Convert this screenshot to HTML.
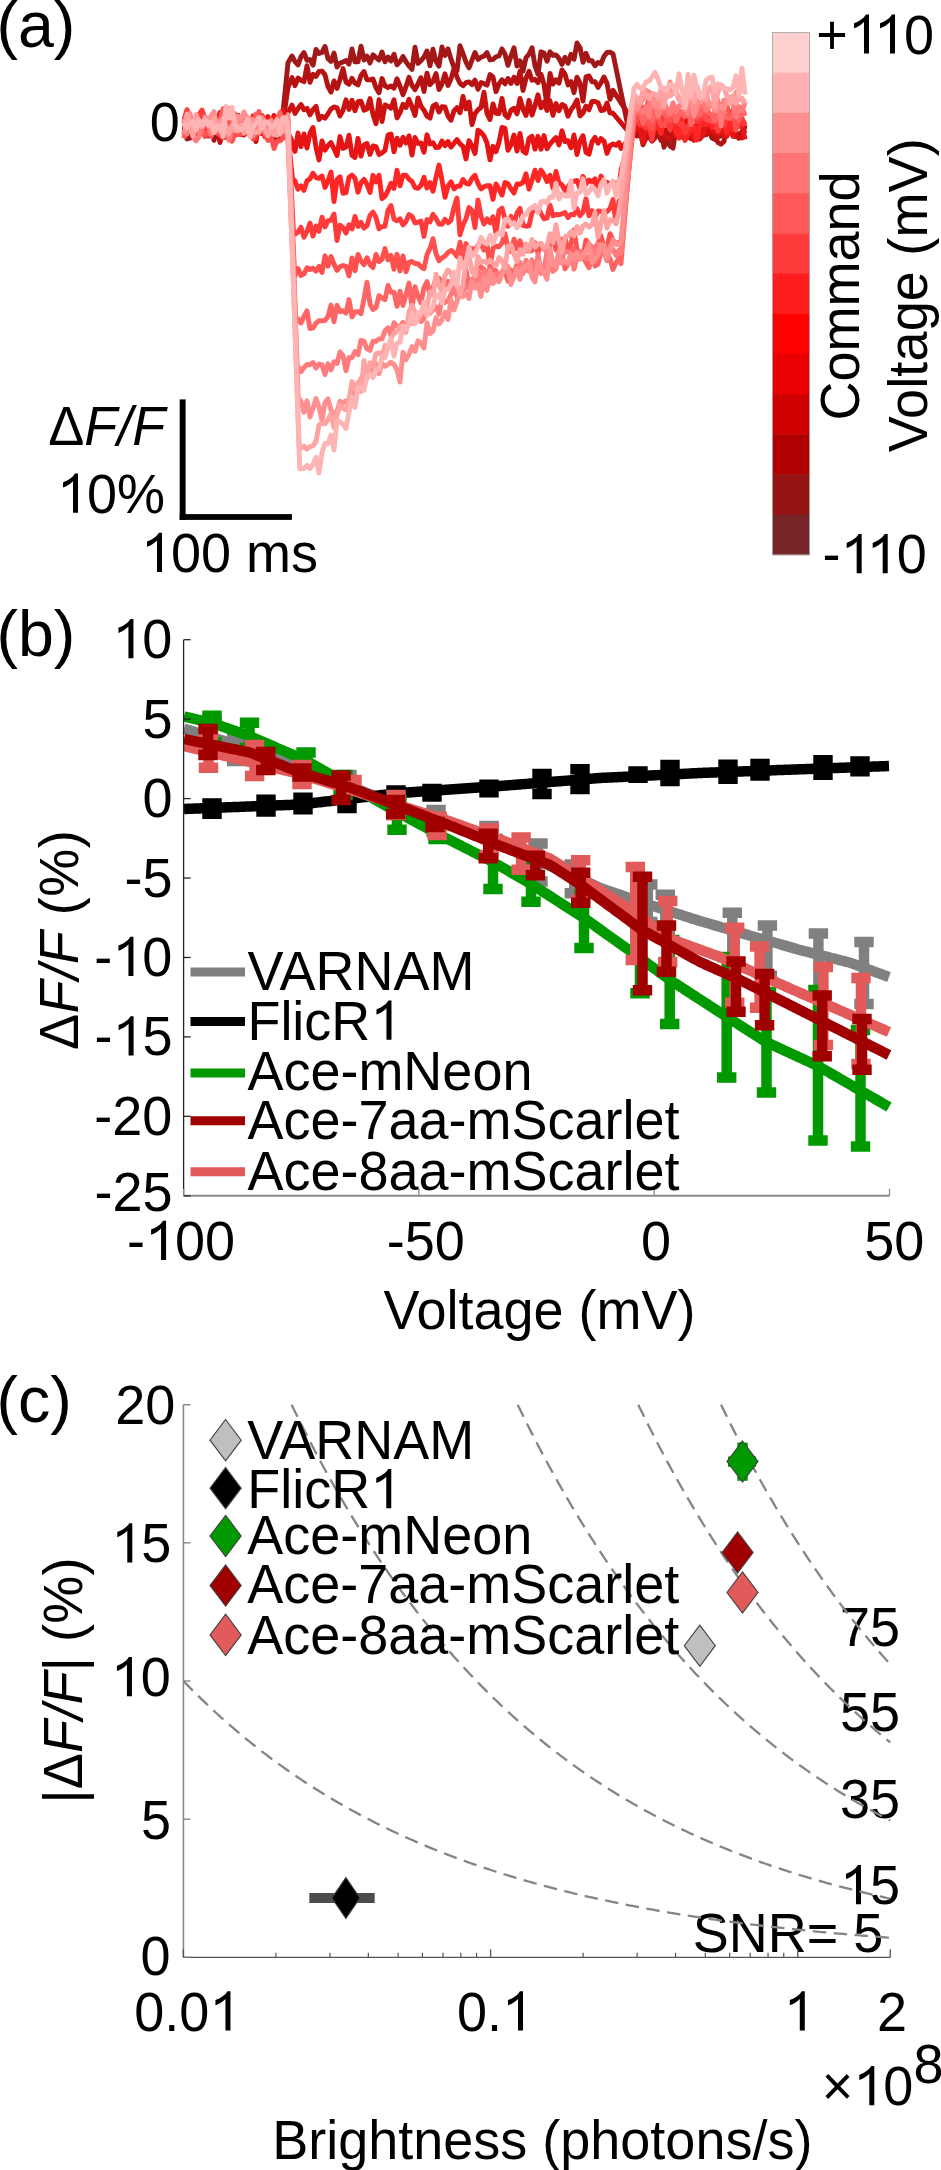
<!DOCTYPE html>
<html><head><meta charset="utf-8"><style>
html,body{margin:0;padding:0;background:#fff;}
svg{display:block;}
text{font-family:"Liberation Sans",sans-serif;fill:#000;}
</style></head><body>
<svg width="941" height="2170" viewBox="0 0 941 2170">
<rect width="941" height="2170" fill="#fff"/>
<polyline points="184,130.23 187,138.97 190,138.08 193,126.63 196,128.03 199,126.52 202,133.76 205,129.63 208,134.93 211,117.81 214,140.34 217,129.36 220,134.49 223,129.1 226,127.5 229,133.06 232,135.44 235,128.66 238,128.99 241,134.53 244,124.26 247,120.01 250,132.61 253,125.57 256,117.33 259,124.63 262,126.91 265,122.12 268,120.15 271,130.24 274,135.92 277,128.46 280,125.09 281,132.54 288,62.74 292,56.01 295,61.58 298,64.86 301,56.6 304,52.59 307,60.24 310,59.57 313,65.18 316,49.44 319,53.55 322,52.37 325,46.45 328,58.72 331,61.36 334,52.99 337,67 340,63.27 343,61.98 346,60.48 349,64.13 352,49.02 355,61.85 358,61.77 361,46.12 364,60.07 367,56.11 370,62.92 373,54.85 376,57.62 379,59.99 382,51.94 385,61.66 388,57.01 391,60.94 394,54.24 397,64.84 400,61.66 403,56.48 406,61.82 409,65.95 412,69.45 415,47.24 418,63.44 421,60.67 424,56.97 427,50.94 430,65.87 433,49.24 436,61.3 439,66.14 442,46.98 445,55.53 448,48.88 451,59.12 454,67.5 457,70.85 460,45.75 463,53.68 466,62.11 469,67.88 472,60.23 475,52.51 478,59.39 481,57.31 484,56.07 487,52.56 490,59.95 493,59.42 496,56.76 499,55.9 502,48.88 505,54.14 508,65.3 511,56.07 514,47.82 517,66.12 520,60.8 523,71.21 526,57.7 529,54.23 532,47.71 535,65.99 538,74.21 541,51.82 544,52.96 547,61.16 550,51.73 553,55.42 556,54.89 559,58.45 562,64.4 565,57.31 568,63.22 571,54.38 574,59.3 577,43.02 580,47.55 583,62.37 586,53.21 589,60.92 592,60.66 595,65.8 598,62.42 601,63.77 604,56.31 607,52.43 610,52.2 613,53.8 628,126.54 631,130.39 634,133.39 637,135.66 640,131.76 643,121.3 646,133.52 649,135.49 652,141.16 655,137.81 658,129.75 661,129.22 664,147.27 667,138.99 670,146.09 673,148.05 676,128.6 679,136.54 682,137.02 685,137.69 688,137.58 691,135.33 694,135.15 697,124.08 700,132.91 703,129.07 706,134.83 709,130.91 712,138.08 715,139.41 718,136.04 721,136.09 724,134.61 727,131.04 730,132.91 733,130.73 736,136.56 739,134.09 742,137.84 745,125.23" fill="none" stroke="#a21717" stroke-width="4.9" stroke-linejoin="round" stroke-linecap="butt"/>
<polyline points="184,130.86 187,119.97 190,120.15 193,123.7 196,121.28 199,126.92 202,121.21 205,117.94 208,119.42 211,133.66 214,125.29 217,117.29 220,125.06 223,114.73 226,136.81 229,114.94 232,128.16 235,128.59 238,115.43 241,126.98 244,131.58 247,128.09 250,126.72 253,131.26 256,126.06 259,127.22 262,124.16 265,129.17 268,118.79 271,130.23 274,121.67 277,117.8 280,127.41 281,136.17 288,87.34 292,77.6 295,85.62 298,78.03 301,80.21 304,81.63 307,65.76 310,82.33 313,74.27 316,76.48 319,71.36 322,71.09 325,74.88 328,86.56 331,92.12 334,80.97 337,88.35 340,79.41 343,68.54 346,82.16 349,84.12 352,78.36 355,83.19 358,84.98 361,75.52 364,71.48 367,79.77 370,79.85 373,78.92 376,87.78 379,92.66 382,78.53 385,85.9 388,87.51 391,86.01 394,88.23 397,78.76 400,86.22 403,94.7 406,86.66 409,77.27 412,85.38 415,89.71 418,83.82 421,77.68 424,91.59 427,73.17 430,84.75 433,81.33 436,73.56 439,89.5 442,83.76 445,73.77 448,85.45 451,78.64 454,68.94 457,76.96 460,83.25 463,85.72 466,82.63 469,81.84 472,84.65 475,80.17 478,89.34 481,82.56 484,83.53 487,85.17 490,74.63 493,76.93 496,91.71 499,83.85 502,79.78 505,83.91 508,78.48 511,83.51 514,77.28 517,83.51 520,71.28 523,90.49 526,78.33 529,71.29 532,80.26 535,79.29 538,82.76 541,74.2 544,84.39 547,105.69 550,73.35 553,84.03 556,79.76 559,83.09 562,69.87 565,74.24 568,84.88 571,81.6 574,92.65 577,77.22 580,83.03 583,101.11 586,76.84 589,75.94 592,81.68 595,81.63 598,87.5 601,82.8 604,76.96 607,83.36 610,99.38 613,90.37 628,113.64 631,131.06 634,126.22 637,136.11 640,130.86 643,144.76 646,138.15 649,137.88 652,133.23 655,131.73 658,134.25 661,140.55 664,135.53 667,129.68 670,140.42 673,133.27 676,131.49 679,126.78 682,128.26 685,127.8 688,113.57 691,138.71 694,135.74 697,130.59 700,138.9 703,134.89 706,134.45 709,115.67 712,130.46 715,135.51 718,142.62 721,144.15 724,141.41 727,124.33 730,117.5 733,135.77 736,132.18 739,138.35 742,131.17 745,133.45" fill="none" stroke="#b51313" stroke-width="4.9" stroke-linejoin="round" stroke-linecap="butt"/>
<polyline points="184,121.1 187,133.96 190,128.06 193,133.31 196,134.03 199,130.23 202,133.09 205,130.91 208,136.01 211,134.31 214,127.39 217,127.12 220,142.51 223,130.33 226,137.55 229,133.6 232,127.28 235,126.06 238,131.79 241,132.69 244,135.05 247,122.64 250,127.08 253,130.37 256,141.56 259,115.42 262,133.9 265,127.44 268,133.85 271,127.75 274,133.41 277,141.33 280,133.34 281,133.86 288,112.47 292,105.04 295,113.55 298,108.58 301,104.58 304,109.66 307,108.4 310,114.85 313,109.58 316,106.35 319,119.43 322,116.33 325,118.17 328,113.78 331,109.03 334,106.97 337,107.87 340,115.95 343,110.42 346,99.87 349,109.38 352,100.28 355,110.7 358,101.64 361,101.23 364,110.33 367,109.02 370,98.55 373,114.44 376,123.76 379,99.68 382,121.45 385,104.88 388,106.15 391,108.21 394,99.83 397,117.93 400,112.59 403,104.36 406,107.47 409,99.27 412,106.97 415,115.42 418,97.9 421,106.33 424,110.16 427,116.09 430,118.06 433,106.12 436,104.23 439,112.07 442,106.68 445,107.01 448,116.17 451,120.18 454,110.76 457,107.72 460,112.74 463,96.49 466,108.81 469,101.92 472,124.67 475,113.63 478,109.79 481,107.56 484,92.23 487,113.51 490,119.54 493,103.96 496,113.26 499,113.5 502,98.5 505,114.87 508,117.62 511,110.17 514,108.23 517,113.82 520,98.44 523,109.2 526,115.53 529,100.35 532,115.08 535,105.75 538,94.76 541,107.78 544,102.05 547,110.55 550,100.69 553,115.34 556,103.51 559,110.72 562,104.43 565,106.2 568,116.18 571,109.72 574,105.67 577,100 580,115.9 583,113.06 586,106.05 589,109.79 592,101.37 595,101.45 598,102.68 601,110.45 604,110.05 607,103.16 610,112.93 613,113.22 628,131.14 631,136.85 634,128.1 637,129.25 640,133.12 643,129.78 646,135.24 649,121.73 652,139.41 655,124.84 658,128.91 661,120.91 664,133.96 667,138.41 670,137.07 673,135.5 676,119.72 679,124.84 682,126.95 685,123.83 688,137.41 691,131.22 694,129.84 697,133.22 700,123.72 703,124 706,124.18 709,133.28 712,132.25 715,133.82 718,137.12 721,121.04 724,126.3 727,130.97 730,121.1 733,126.49 736,136.69 739,137.28 742,137.11 745,130.28" fill="none" stroke="#cc1111" stroke-width="4.9" stroke-linejoin="round" stroke-linecap="butt"/>
<polyline points="184,121.6 187,130.12 190,120.54 193,125.23 196,131.75 199,120.57 202,118.97 205,122.94 208,126.95 211,126.18 214,124.03 217,126.67 220,112.44 223,117.33 226,124.08 229,116.87 232,114.14 235,115.03 238,116.94 241,121.82 244,116.25 247,124.55 250,134.2 253,122.03 256,131.41 259,124.9 262,115.61 265,121.31 268,116.52 271,128.07 274,115.39 277,131.73 280,126.82 283,109.65 286,128.18 288,133.25 291.46,139.77 295,151.47 298,133.08 301,146.6 304,133.95 307,148.08 310,133.08 313,127.48 316,147.46 319,159.92 322,140.87 325,150.27 328,145.5 331,142.62 334,148.79 337,155.56 340,136.55 343,148.4 346,146.94 349,135.24 352,155.28 355,157.47 358,138.3 361,156.04 364,144.92 367,143.46 370,154.44 373,146 376,146.61 379,154.48 382,152.94 385,150.32 388,135.16 391,134.01 394,151.8 397,138.24 400,145.31 403,137.23 406,143.08 409,135.84 412,155.02 415,137.52 418,143.42 421,142.96 424,152.15 427,134.8 430,143.93 433,142.75 436,147.61 439,147.21 442,141.02 445,145.64 448,141.57 451,147.11 454,143.33 457,139.66 460,143.79 463,146.35 466,158.89 469,140.67 472,145.92 475,153.53 478,130.14 481,132.34 484,135.98 487,143.05 490,159.89 493,146.35 496,151.72 499,142.27 502,127.45 505,128.43 508,150.4 511,144.88 514,135.07 517,151 520,133.45 523,151.07 526,153.15 529,138.5 532,136.22 535,149.09 538,136.27 541,149.17 544,135.57 547,148.77 550,144.04 553,140.55 556,137.48 559,144.94 562,130.86 565,141.51 568,140.7 571,147.77 574,135 577,154.57 580,141.19 583,135.71 586,152.35 589,154.16 592,141.93 595,137.27 598,143.24 601,138.56 604,141.04 607,153.36 610,145.65 613,144 616,145.31 619,142.62 621,148.55 634,132.8 637,124.56 640,127.69 643,142.93 646,129.78 649,125.77 652,140.53 655,127.06 658,119.76 661,131.45 664,121.06 667,123.72 670,129.15 673,126.16 676,121.96 679,123.36 682,123.08 685,134.7 688,122.24 691,123.22 694,140.45 697,123.35 700,136.83 703,135.68 706,125.99 709,117.63 712,129.99 715,131.44 718,133.39 721,127.47 724,134.95 727,136.18 730,120.04 733,136.43 736,128.15 739,123.27 742,124.9 745,139.39" fill="none" stroke="#e61414" stroke-width="4.9" stroke-linejoin="round" stroke-linecap="butt"/>
<polyline points="184,134.49 187,116.19 190,128.55 193,127.08 196,126.84 199,124.61 202,118.39 205,133.69 208,121.8 211,125.56 214,124.02 217,123.2 220,132.91 223,130.53 226,123.55 229,121.76 232,124.9 235,134.38 238,128.83 241,129.54 244,125.83 247,126.3 250,129.43 253,115.83 256,138.64 259,122.8 262,124.25 265,136.83 268,129.47 271,128.28 274,124.15 277,117.7 280,129.22 283,135.89 286,122.06 288,136.99 292.52,178.52 295,181.06 298,189.19 301,185.8 304,190.31 307,180.8 310,178.83 313,173.26 316,177.58 319,178.37 322,176 325,187.4 328,180.93 331,172.13 334,201.59 337,179.64 340,176.8 343,193.22 346,192.67 349,177.33 352,175.14 355,178.22 358,192.22 361,182.65 364,179.32 367,184.41 370,192.49 373,175.32 376,181.9 379,175.25 382,198.66 385,196.27 388,190.5 391,183.28 394,188.46 397,170.18 400,185.82 403,175.13 406,175.15 409,179.19 412,181.47 415,187.52 418,188.3 421,185.35 424,177.33 427,187.97 430,182.66 433,191.19 436,177.29 439,165.05 442,180.09 445,197.38 448,186.22 451,181.79 454,188.85 457,186.28 460,185.95 463,179.47 466,183.3 469,184.07 472,178.45 475,175.25 478,183.5 481,188.92 484,186.74 487,185.68 490,185.69 493,199.36 496,183.97 499,189.08 502,195.06 505,182.44 508,183.78 511,188.87 514,193.07 517,183.94 520,184.21 523,182.36 526,173.75 529,189.03 532,179.93 535,170.2 538,180.54 541,170.04 544,174.75 547,181.47 550,175.22 553,188.32 556,171.5 559,182.89 562,184.78 565,190.69 568,187.08 571,182.48 574,181.42 577,180.45 580,188.3 583,176.4 586,184.12 589,180.01 592,182.16 595,178.79 598,194.56 601,176.08 604,182.03 607,182.13 610,184.27 613,183.17 616,182.95 619,186.58 621,170.13 634,124.14 637,115.94 640,125.61 643,116.27 646,117.74 649,123.68 652,133.3 655,127.89 658,126.04 661,133.35 664,117.85 667,110.28 670,121.29 673,122.25 676,132.24 679,138.21 682,115.31 685,140.44 688,134.42 691,129.63 694,126.52 697,140.1 700,124.62 703,120.96 706,125.01 709,115.05 712,127.21 715,123.37 718,126.27 721,126.47 724,117.1 727,132.78 730,117.4 733,129.96 736,113.58 739,126.55 742,118.68 745,124.38" fill="none" stroke="#ff2626" stroke-width="4.9" stroke-linejoin="round" stroke-linecap="butt"/>
<polyline points="184,119.8 187,109.69 190,116.74 193,124.55 196,128.22 199,114.4 202,110.08 205,118.34 208,122.71 211,119.92 214,118.76 217,129.72 220,130.48 223,129 226,117.91 229,124.61 232,122.82 235,114.68 238,129.93 241,124.68 244,120.9 247,133.46 250,129.14 253,129.75 256,132.02 259,128.84 262,115.75 265,121.53 268,130.72 271,119.02 274,124.34 277,126.72 280,133.61 283,132.67 286,130.02 288,122.86 293.62,234.92 298,232.12 301,227.39 304,237.24 307,231.37 310,222.95 313,236.12 316,225.9 319,231.33 322,217.18 325,226.94 328,220.65 331,220.3 334,213.94 337,240.52 340,225.21 343,227.6 346,233.17 349,224.88 352,228.91 355,216.38 358,226.47 361,222.27 364,228.14 367,225.86 370,215.35 373,212.1 376,217.46 379,228.85 382,226.62 385,226.31 388,210.15 391,205.56 394,219.02 397,220.77 400,218.82 403,224.97 406,221.33 409,214.47 412,216.32 415,222.9 418,222.27 421,221.13 424,236.42 427,219.55 430,221.91 433,214.38 436,218.42 439,224.08 442,224.2 445,219.25 448,222.73 451,220.32 454,207.37 457,198.01 460,234.71 463,224.78 466,218.75 469,207.5 472,210.39 475,227.59 478,200.08 481,216.18 484,223.89 487,218.94 490,222.81 493,216.8 496,233.31 499,210.56 502,208.2 505,218.84 508,226.3 511,216.34 514,223.47 517,212.88 520,208.4 523,225.31 526,226.26 529,225.87 532,212.7 535,207.8 538,207.55 541,213.63 544,218.8 547,218.16 550,205.17 553,215.77 556,214.44 559,214.76 562,213.85 565,212.52 568,217.61 571,214.37 574,214.87 577,208.66 580,215.68 583,212.11 586,198.79 589,215.79 592,210.7 595,218.4 598,211.06 601,211.35 604,213.22 607,211.59 610,208.56 613,199.52 616,223.37 619,200.63 621,208.69 634,124.31 637,122.51 640,123.74 643,125.08 646,128.34 649,121.96 652,139.18 655,113.31 658,121.5 661,117.62 664,116.4 667,121.9 670,129.62 673,115.31 676,115.31 679,124.78 682,123.59 685,132.92 688,126.78 691,121.52 694,117.83 697,121.42 700,118.84 703,110.99 706,120.05 709,118.84 712,118.47 715,117.17 718,131.15 721,124.6 724,126.18 727,115.99 730,113.25 733,118.13 736,121.61 739,117.72 742,118.76 745,126.35" fill="none" stroke="#ff3a3a" stroke-width="4.9" stroke-linejoin="round" stroke-linecap="butt"/>
<polyline points="184,133.97 187,125.51 190,129.18 193,127.66 196,133.19 199,124.3 202,130.82 205,136.57 208,132.19 211,125.97 214,127.93 217,132.82 220,135.19 223,137.52 226,131.04 229,123.31 232,141.4 235,133.97 238,134.68 241,134.02 244,125.15 247,129.89 250,133.7 253,138.82 256,132.4 259,111.41 262,130.41 265,134.33 268,140.54 271,136.69 274,148.44 277,141.4 280,140.89 283,138.22 286,122.88 288,137.59 294.75,276.33 298,268.47 301,275.42 304,273.92 307,267.7 310,269.57 313,268.26 316,271.14 319,266.43 322,272.45 325,255.82 328,266.24 331,256.61 334,264.17 337,270.4 340,266.77 343,265.53 346,266.35 349,275.89 352,257.88 355,270.68 358,254.48 361,261.03 364,264.85 367,257.8 370,264.43 373,267.54 376,254.51 379,261.54 382,259.23 385,248.57 388,259.81 391,255.45 394,269.23 397,254.29 400,270.96 403,255.9 406,271.89 409,262.35 412,261.47 415,263.48 418,263.81 421,266.81 424,268.68 427,254.65 430,248.39 433,238.71 436,253.49 439,260.77 442,257.96 445,255.94 448,252.58 451,250.38 454,252.45 457,256.62 460,242.13 463,258.31 466,243.6 469,251.92 472,248.51 475,249.99 478,245.26 481,244.29 484,250.12 487,244.22 490,267.36 493,248.12 496,246.28 499,246.74 502,243.04 505,233.66 508,247.93 511,251.43 514,239.22 517,248.94 520,240.68 523,248.2 526,250.57 529,251.17 532,250.61 535,242.86 538,253.09 541,244.1 544,249.15 547,251.27 550,244.4 553,237.71 556,250.02 559,238.39 562,239.67 565,238.07 568,250.7 571,243.86 574,229.9 577,249.39 580,258.01 583,256.03 586,240.21 589,244.27 592,246.93 595,249.29 598,243.44 601,235.8 604,247.83 607,246.73 610,233.71 613,239.9 616,243.93 619,241.97 621,245.33 634,121.18 637,119.5 640,115.17 643,107.02 646,119.99 649,125.17 652,128.96 655,115.7 658,115.68 661,125.47 664,125.42 667,118.17 670,120.62 673,110.89 676,119.77 679,110.46 682,114.95 685,115.1 688,112.82 691,101.97 694,110.45 697,118.11 700,115.51 703,113.31 706,118.74 709,120.45 712,121.5 715,110.58 718,116.04 721,113.69 724,110.1 727,106.02 730,115.24 733,110.13 736,130.1 739,115.24 742,114.41 745,113.27" fill="none" stroke="#ff5050" stroke-width="4.9" stroke-linejoin="round" stroke-linecap="butt"/>
<polyline points="184,138.27 187,119.67 190,124.83 193,120.81 196,125.07 199,125.65 202,133.14 205,116.54 208,125.75 211,136.56 214,122.52 217,124.72 220,120.04 223,108.61 226,125.2 229,133.65 232,122.8 235,113.7 238,127.65 241,126.41 244,132.49 247,131.9 250,124.11 253,128.53 256,114.01 259,133.24 262,127.12 265,133.05 268,132.9 271,123.99 274,124.9 277,120.11 280,112.25 283,125.02 286,126.9 288,118.72 295.76,321.34 298,318.84 301,322.98 304,316.38 307,310.94 310,328.51 313,327.84 316,323.13 319,320.63 322,320.69 325,320.4 328,316.49 331,305 334,321.86 337,305.32 340,311.69 343,310.68 346,313.2 349,299.58 352,316.94 355,312.04 358,311.55 361,313.62 364,298.8 367,282.25 370,304.07 373,309.55 376,307.65 379,295.64 382,297.88 385,299.75 388,285.38 391,292.4 394,292.14 397,306.36 400,291.18 403,305.42 406,294.71 409,283.08 412,308.28 415,286.67 418,296.54 421,303 424,287.28 427,281.59 430,295.4 433,287.77 436,278.12 439,278.13 442,281.93 445,290.15 448,281.22 451,286.79 454,292.76 457,289.65 460,290.19 463,288.3 466,269.03 469,287.21 472,280.81 475,277.33 478,270.51 481,266.71 484,269.38 487,276.09 490,267.98 493,269.84 496,270.65 499,278.58 502,271.68 505,272.12 508,281.28 511,269.85 514,275.37 517,263.88 520,272.47 523,270.53 526,270.34 529,265.55 532,261.27 535,265.54 538,263.88 541,273.24 544,271.86 547,257.39 550,268.92 553,261.08 556,266.74 559,260 562,252.93 565,268.83 568,264.58 571,252.99 574,248.07 577,256.51 580,251.72 583,256.6 586,262.58 589,267.67 592,255.11 595,266.05 598,264.14 601,253.09 604,244.45 607,260.59 610,258.48 613,269.5 616,262.92 619,258.15 621,263.81 634,105.1 637,113.3 640,110.22 643,123.53 646,115.76 649,91.84 652,121.08 655,106.06 658,117.18 661,108.9 664,113.68 667,116.26 670,113.36 673,105.78 676,121.32 679,114.71 682,111.98 685,116.76 688,108.57 691,124.55 694,113.59 697,114.52 700,114.4 703,106.09 706,104.37 709,113.55 712,114.45 715,121.01 718,115.1 721,104.94 724,115.6 727,117.59 730,118.75 733,114.33 736,104.06 739,119.79 742,107.3 745,115.91" fill="none" stroke="#ff6464" stroke-width="4.9" stroke-linejoin="round" stroke-linecap="butt"/>
<polyline points="184,118.75 187,134.17 190,123.95 193,136.27 196,140.77 199,136.84 202,121.41 205,122.89 208,123.37 211,133.49 214,131.4 217,130.16 220,131.16 223,132.94 226,133.41 229,140.26 232,128.74 235,130.45 238,116.85 241,120.36 244,124.51 247,121.26 250,130.54 253,135.95 256,126.2 259,125.86 262,125.68 265,129.92 268,125.46 271,131.86 274,131.03 277,131.31 280,134.08 283,129.24 286,129.98 288,140.64 297.04,365.03 301,371.76 304,367.46 307,364.49 310,364.76 313,362.51 316,368.06 319,364.01 322,364.95 325,374.61 328,363.8 331,369.91 334,361.73 337,363.43 340,351.96 343,355.6 346,370.76 349,357.65 352,357.7 355,351.56 358,354.66 361,340.33 364,341.38 367,348.81 370,350.34 373,341.12 376,341.42 379,339.01 382,338.81 385,330.74 388,327.77 391,335.2 394,322.75 397,326.18 400,326.66 403,322.4 406,329.2 409,322.91 412,323.49 415,315.47 418,315.3 421,321.57 424,318.31 427,310.34 430,313.21 433,309.45 436,306.79 439,314.03 442,298.89 445,302.4 448,300.56 451,294.43 454,286.54 457,297.09 460,292.62 463,289.65 466,287.97 469,286.52 472,279.11 475,285.65 478,270.61 481,281.2 484,270.43 487,276.96 490,283.03 493,275.67 496,273.32 499,279.01 502,273.01 505,271.29 508,270.6 511,282.41 514,276.06 517,274.09 520,262.32 523,273.51 526,260.13 529,271.06 532,259.75 535,279.24 538,254.49 541,272.92 544,269.41 547,251.68 550,261.1 553,271.5 556,268.76 559,249.62 562,256.43 565,251.41 568,251.69 571,253.5 574,269.18 577,257.19 580,254.09 583,252.65 586,258.52 589,257.96 592,246.6 595,261.62 598,244.05 601,248.64 604,252.71 607,260.29 610,245.98 613,249.41 616,255.38 619,250.16 621,253 634,113.42 637,108.29 640,110.73 643,112.62 646,106.39 649,117.12 652,93.46 655,100.49 658,116.1 661,109.39 664,102.32 667,109.07 670,113.74 673,102.88 676,111.64 679,105.77 682,105.83 685,106.12 688,113.91 691,99.19 694,104.15 697,110.95 700,98.53 703,96.15 706,110.33 709,106.59 712,105.61 715,107.52 718,100.17 721,125.8 724,100.09 727,103.71 730,97.2 733,103.84 736,116.65 739,106.71 742,110.51 745,103.39" fill="none" stroke="#ff7a7a" stroke-width="4.9" stroke-linejoin="round" stroke-linecap="butt"/>
<polyline points="184,133.55 187,122.66 190,113.34 193,126.66 196,119.14 199,125.59 202,122.5 205,123.32 208,122.48 211,115.61 214,111.67 217,128.02 220,120.69 223,123.46 226,118.52 229,108.23 232,113.15 235,130.79 238,116.39 241,119.05 244,111.89 247,118.09 250,119.11 253,120.11 256,121.08 259,117.4 262,117.77 265,121.47 268,123.69 271,120.62 274,133.06 277,122.91 280,122.62 283,117.22 286,128.33 288,114.79 298.2,397.1 301,401.6 304,412.32 307,400.82 310,417 313,408.36 316,398.53 319,407.02 322,420.24 325,402.46 328,398.91 331,410.15 334,414.43 337,411.42 340,401.36 343,402.87 346,400.8 349,402.72 352,405.13 355,386.28 358,392.03 361,378.4 364,382.04 367,369.56 370,368.4 373,374.09 376,363.59 379,373.82 382,363.12 385,366.34 388,364.51 391,362.15 394,364.46 397,369.82 400,382.02 403,352.09 406,359.81 409,354.19 412,346.55 415,351.5 418,340.76 421,342.97 424,348.17 427,322.77 430,333.68 433,330.92 436,317.77 439,324.04 442,319.82 445,312.17 448,319.49 451,299.93 454,309.95 457,301.4 460,293.31 463,296.58 466,293.05 469,298.53 472,281.19 475,287.9 478,284.51 481,296.44 484,277.36 487,290.49 490,270.76 493,283.54 496,279.36 499,281.79 502,273.74 505,264.63 508,266.46 511,284.49 514,276.41 517,268.48 520,279.3 523,267.6 526,266.78 529,262.75 532,277.6 535,281.86 538,261.63 541,268.99 544,272.62 547,279.23 550,248.55 553,264.41 556,266.84 559,251.93 562,263.49 565,261.21 568,263.78 571,254.26 574,259.96 577,252.3 580,259.38 583,255.5 586,251.05 589,243.27 592,262.56 595,258.08 598,255.64 601,244.51 604,245.65 607,258.05 610,251 613,239.53 616,244.52 619,244.2 621,241.33 634,94.16 637,108.67 640,104.28 643,99.09 646,90.02 649,96.55 652,100.38 655,106.14 658,97.98 661,107.74 664,101.36 667,95.53 670,82.01 673,92.7 676,90.62 679,99.46 682,102.66 685,109.65 688,100.39 691,92.84 694,116.01 697,102.55 700,98.76 703,98.77 706,91.58 709,104.71 712,102.98 715,111 718,107.8 721,106.26 724,108.84 727,98.66 730,97.62 733,100.23 736,92.33 739,99.62 742,98.4 745,104.99" fill="none" stroke="#ff8e8e" stroke-width="4.9" stroke-linejoin="round" stroke-linecap="butt"/>
<polyline points="184,126.49 187,114 190,126.8 193,135.95 196,114.5 199,121.6 202,126.73 205,117.87 208,123.01 211,127.01 214,117.93 217,128.59 220,129.36 223,118.29 226,126.84 229,133.8 232,125.52 235,129.56 238,130.94 241,125.15 244,133.19 247,129.25 250,120.17 253,130.17 256,132.44 259,132.05 262,122.49 265,129.78 268,135.82 271,128.29 274,134.59 277,135.36 280,126.54 283,131.15 286,124.88 288,133.85 299.25,449.1 304,446.18 307,449.17 310,446.56 313,445.74 316,441.39 319,425.08 322,422.71 325,423.86 328,419.79 331,413.42 334,427.5 337,415.22 340,405.24 343,408.36 346,409.8 349,400.1 352,381.58 355,388.35 358,382.58 361,391.48 364,360.69 367,378.51 370,362.85 373,365.75 376,353.58 379,352.79 382,355.48 385,345.26 388,348.63 391,338.26 394,333.26 397,331.62 400,326.68 403,325.94 406,332.3 409,312.08 412,305.27 415,312.55 418,320.28 421,312.65 424,311.21 427,307.68 430,291.8 433,294.89 436,274.26 439,285.61 442,291.55 445,275.26 448,270.01 451,273.19 454,281.42 457,285.96 460,293.66 463,284.4 466,263.37 469,256.5 472,271.27 475,275.75 478,256.57 481,262.3 484,261.29 487,263.02 490,260.17 493,263.35 496,265.53 499,257.65 502,260.79 505,267.67 508,246.47 511,245.02 514,254.05 517,261.69 520,249.37 523,254.31 526,243.91 529,250.87 532,239.59 535,247.12 538,244.23 541,243.22 544,248.71 547,245.7 550,233.75 553,242.61 556,224.63 559,241.46 562,252.18 565,236.64 568,235.61 571,231.79 574,235.98 577,226.62 580,233.14 583,226.03 586,224.13 589,226.87 592,224.78 595,212.85 598,237.14 601,223.5 604,210.52 607,227.97 610,219.82 613,220.51 616,222.98 619,211.57 621,197.5 634,95.17 637,97.42 640,102.44 643,90.83 646,94.07 649,98.46 652,93.74 655,94.18 658,97.51 661,89.25 664,106.28 667,89.74 670,96.06 673,93.65 676,91.15 679,99.35 682,102.49 685,105.42 688,99.65 691,92.85 694,101.5 697,86.27 700,96.12 703,99.24 706,99.51 709,88.18 712,85.88 715,106.73 718,92.37 721,84.87 724,87.55 727,95.8 730,103.49 733,95.67 736,103.6 739,97.16 742,98.77 745,102.15" fill="none" stroke="#ffa2a2" stroke-width="4.9" stroke-linejoin="round" stroke-linecap="butt"/>
<polyline points="184,123.16 187,127.58 190,123.06 193,121.41 196,129.93 199,120.17 202,126.11 205,120.35 208,124.98 211,122.07 214,132.76 217,126.05 220,126.03 223,136.38 226,106.37 229,118.09 232,107.34 235,125.36 238,128.28 241,129.62 244,127.13 247,119.59 250,136.9 253,127.33 256,123.58 259,117.89 262,128.06 265,122.03 268,122.29 271,126.61 274,126.68 277,119.81 280,133.49 283,118.6 286,117.83 288,127.23 299.74,468.74 304,468.5 307,465.39 310,468.42 313,464.44 316,457.27 319,473 322,452.59 325,443.44 328,443.61 331,435.07 334,450.06 337,420.21 340,421.94 343,424.34 346,428.5 349,412.1 352,397.49 355,407.49 358,387.5 361,387.29 364,390.33 367,376.48 370,374.59 373,377.56 376,369.66 379,369.27 382,357.04 385,357.98 388,346.78 391,338.86 394,356 397,342.98 400,342.1 403,326.16 406,329.09 409,324.83 412,313.87 415,324 418,312.84 421,313.48 424,301.98 427,315.7 430,311.43 433,306.32 436,294.98 439,294.5 442,302.93 445,289.56 448,289.41 451,284.63 454,272.21 457,285.43 460,257.98 463,268.22 466,261.86 469,247.51 472,256.24 475,253.5 478,246.62 481,237.28 484,242.46 487,243.93 490,235.49 493,243.15 496,235.33 499,232.76 502,235 505,219.7 508,218.94 511,224.17 514,222.64 517,227.64 520,223.73 523,215.82 526,214.58 529,209.76 532,207.57 535,205.36 538,212.64 541,201.91 544,201.05 547,202.86 550,196.93 553,197.4 556,183.22 559,198.95 562,193.48 565,195.87 568,196.24 571,180.83 574,208.26 577,192.84 580,192.39 583,178.85 586,194.16 589,192.16 592,186.42 595,189.72 598,195.77 601,184.23 604,179.52 607,193.24 610,185.09 613,181 616,196.12 619,180.7 621,177.63 634,88.73 637,84.32 640,88.38 643,87.89 646,81.96 649,81.21 652,77.12 655,72.45 658,78.9 661,88.06 664,87.87 667,90.24 670,84.36 673,85.17 676,93.7 679,73.8 682,89.26 685,107.66 688,74.55 691,96.65 694,75.12 697,89.07 700,97.36 703,96.41 706,80.58 709,77.95 712,77.01 715,91.2 718,83.87 721,86.46 724,88.11 727,89.09 730,89.9 733,87.17 736,75.75 739,95.94 742,68.2 745,94.47" fill="none" stroke="#ffb4b4" stroke-width="4.9" stroke-linejoin="round" stroke-linecap="butt"/>
<rect x="772.5" y="32.5" width="37" height="40.67" fill="#ffd0d0"/>
<rect x="772.5" y="72.67" width="37" height="40.67" fill="#ffb0b0"/>
<rect x="772.5" y="112.84" width="37" height="40.67" fill="#ff9090"/>
<rect x="772.5" y="153.01" width="37" height="40.67" fill="#ff7474"/>
<rect x="772.5" y="193.18" width="37" height="40.67" fill="#ff5858"/>
<rect x="772.5" y="233.35" width="37" height="40.67" fill="#ff3c3c"/>
<rect x="772.5" y="273.52" width="37" height="40.67" fill="#ff1e1e"/>
<rect x="772.5" y="313.68" width="37" height="40.67" fill="#ff0000"/>
<rect x="772.5" y="353.85" width="37" height="40.67" fill="#ea0000"/>
<rect x="772.5" y="394.02" width="37" height="40.67" fill="#d00000"/>
<rect x="772.5" y="434.19" width="37" height="40.67" fill="#b10000"/>
<rect x="772.5" y="474.36" width="37" height="40.67" fill="#951313"/>
<rect x="772.5" y="514.53" width="37" height="40.67" fill="#782527"/>
<rect x="772.5" y="32.5" width="37" height="522.2" fill="none" stroke="#a0a0a0" stroke-width="0.8"/>
<g transform="translate(816.36,53.6) scale(1,1.035)"><text x="0" y="0" font-size="54" >+</text><path transform="translate(31.54,0) scale(0.02637,-0.02637)" d="M800,0L800,1436L684,1436C610,1305 420,1175 231,1114L231,925C370,977 510,1057 610,1157L610,0Z"/><path transform="translate(57.56,0) scale(0.02637,-0.02637)" d="M800,0L800,1436L684,1436C610,1305 420,1175 231,1114L231,925C370,977 510,1057 610,1157L610,0Z"/><text x="87.59" y="0" font-size="54" >0</text></g>
<g transform="translate(822.6,573.3) scale(1,1.035)"><text x="0" y="0" font-size="54" >-</text><path transform="translate(17.98,0) scale(0.02637,-0.02637)" d="M800,0L800,1436L684,1436C610,1305 420,1175 231,1114L231,925C370,977 510,1057 610,1157L610,0Z"/><path transform="translate(44.01,0) scale(0.02637,-0.02637)" d="M800,0L800,1436L684,1436C610,1305 420,1175 231,1114L231,925C370,977 510,1057 610,1157L610,0Z"/><text x="74.04" y="0" font-size="54" >0</text></g>
<text transform="translate(858.5,420.54) rotate(-90) scale(1,1.035)" font-size="54" >Command</text>
<text transform="translate(926.5,452.24) rotate(-90) scale(1,1.035)" font-size="54" letter-spacing="0.17">Voltage (mV)</text>
<text transform="translate(-3.5,46.8)" font-size="64.5" >(a)</text>
<text transform="translate(149.69,141) scale(1,1.035)" font-size="54" >0</text>
<rect x="179.7" y="399.4" width="5.9" height="120.5" fill="#000"/>
<rect x="179.7" y="514.1" width="112.2" height="5.8" fill="#000"/>
<text transform="translate(48.18,444.5) scale(1,1.035)" font-size="54" >&#916;<tspan font-style="italic">F/F</tspan></text>
<g transform="translate(56.91,512.8) scale(1,1.035)"><path transform="translate(0,0) scale(0.02637,-0.02637)" d="M800,0L800,1436L684,1436C610,1305 420,1175 231,1114L231,925C370,977 510,1057 610,1157L610,0Z"/><text x="30.03" y="0" font-size="54" >0%</text></g>
<g transform="translate(140.91,572) scale(1,1.035)"><path transform="translate(0,0) scale(0.02637,-0.02637)" d="M800,0L800,1436L684,1436C610,1305 420,1175 231,1114L231,925C370,977 510,1057 610,1157L610,0Z"/><text x="30.03" y="0" font-size="54" >00 ms</text></g>
<polyline points="184,728.6 185.77,729.15 187.53,729.69 189.3,730.24 191.07,730.79 192.83,731.33 194.6,731.88 196.37,732.43 198.14,732.97 199.9,733.52 201.67,734.07 203.44,734.61 205.2,735.16 206.97,735.71 208.74,736.25 210.5,736.8 212.27,737.35 214.04,737.89 215.8,738.44 217.57,738.99 219.34,739.53 221.11,740.08 222.87,740.63 224.64,741.18 226.41,741.72 228.17,742.27 229.94,742.82 231.71,743.36 233.47,743.91 235.24,744.46 237.01,745 238.77,745.56 240.54,746.12 242.31,746.69 244.08,747.25 245.84,747.81 247.61,748.37 249.38,748.93 251.14,749.49 252.91,750.05 254.68,750.61 256.44,751.17 258.21,751.73 259.98,752.29 261.74,752.86 263.51,753.42 265.28,753.98 267.05,754.54 268.81,755.1 270.58,755.66 272.35,756.22 274.11,756.78 275.88,757.34 277.65,757.9 279.41,758.46 281.18,759.03 282.95,759.59 284.71,760.15 286.48,760.71 288.25,761.27 290.02,761.83 291.78,762.39 293.55,762.95 295.32,763.51 297.08,764.07 298.85,764.63 300.62,765.26 302.38,765.99 304.15,766.73 305.92,767.47 307.68,768.2 309.45,768.94 311.22,769.67 312.98,770.41 314.75,771.15 316.52,771.88 318.29,772.62 320.05,773.36 321.82,774.09 323.59,774.83 325.35,775.56 327.12,776.3 328.89,777.04 330.65,777.77 332.42,778.51 334.19,779.24 335.95,779.98 337.72,780.72 339.49,781.45 341.26,782.19 343.02,782.93 344.79,783.66 346.56,784.4 348.32,785.13 350.09,785.87 351.86,786.61 353.62,787.34 355.39,788.08 357.16,788.82 358.92,789.55 360.69,790.29 362.46,791.02 364.23,791.76 365.99,792.5 367.76,793.23 369.53,793.97 371.29,794.71 373.06,795.44 374.83,796.18 376.59,796.91 378.36,797.65 380.13,798.39 381.89,799.12 383.66,799.86 385.43,800.5 387.2,801.11 388.96,801.73 390.73,802.35 392.5,802.96 394.26,803.58 396.03,804.19 397.8,804.81 399.56,805.42 401.33,806.04 403.1,806.66 404.86,807.27 406.63,807.89 408.4,808.5 410.17,809.12 411.93,809.73 413.7,810.35 415.47,810.97 417.23,811.58 419,812.2 420.77,812.81 422.53,813.43 424.3,814.04 426.07,814.66 427.83,815.28 429.6,815.89 431.37,816.51 433.14,817.12 434.9,817.74 436.67,818.35 438.44,818.97 440.2,819.59 441.97,820.2 443.74,820.82 445.5,821.43 447.27,822.05 449.04,822.66 450.8,823.35 452.57,824.11 454.34,824.88 456.11,825.65 457.87,826.41 459.64,827.18 461.41,827.94 463.17,828.71 464.94,829.47 466.71,830.24 468.47,831.01 470.24,831.77 472.01,832.54 473.77,833.3 475.54,834.07 477.31,834.83 479.08,835.6 480.84,836.36 482.61,837.13 484.38,837.9 486.14,838.66 487.91,839.43 489.68,840.19 491.44,840.96 493.21,841.72 494.98,842.49 496.74,843.26 498.51,844.02 500.28,844.79 502.05,845.55 503.81,846.32 505.58,847.08 507.35,847.85 509.11,848.62 510.88,849.38 512.65,850.15 514.41,850.91 516.18,851.68 517.95,852.44 519.71,853.21 521.48,853.98 523.25,854.74 525.02,855.51 526.78,856.27 528.55,857.04 530.32,857.8 532.08,858.57 533.85,859.33 535.62,860.1 537.38,860.87 539.15,861.63 540.92,862.37 542.68,863.07 544.45,863.78 546.22,864.49 547.98,865.19 549.75,865.9 551.52,866.61 553.29,867.31 555.05,868.02 556.82,868.73 558.59,869.43 560.35,870.14 562.12,870.85 563.89,871.55 565.65,872.26 567.42,872.97 569.19,873.68 570.95,874.38 572.72,875.09 574.49,875.8 576.26,876.6 578.02,877.45 579.79,878.3 581.56,879.15 583.32,880 585.09,880.84 586.86,881.69 588.62,882.54 590.39,883.39 592.16,884.24 593.92,885.08 595.69,885.93 597.46,886.78 599.23,887.63 600.99,888.34 602.76,888.94 604.53,889.54 606.29,890.14 608.06,890.74 609.83,891.34 611.59,891.94 613.36,892.54 615.13,893.14 616.89,893.74 618.66,894.34 620.43,894.95 622.2,895.55 623.96,896.15 625.73,896.75 627.5,897.35 629.26,897.95 631.03,898.55 632.8,899.15 634.56,899.75 636.33,900.35 638.1,900.95 639.86,901.55 641.63,902.15 643.4,902.76 645.17,903.36 646.93,903.96 648.7,904.56 650.47,905.15 652.23,905.71 654,906.28 655.77,906.85 657.53,907.41 659.3,907.98 661.07,908.54 662.83,909.11 664.6,909.67 666.37,910.24 668.14,910.8 669.9,911.37 671.67,911.93 673.44,912.5 675.2,913.06 676.97,913.63 678.74,914.2 680.5,914.76 682.27,915.33 684.04,915.89 685.8,916.46 687.57,917.02 689.34,917.59 691.11,918.15 692.87,918.72 694.64,919.28 696.41,919.85 698.17,920.42 699.94,920.98 701.71,921.5 703.47,922.01 705.24,922.53 707.01,923.05 708.77,923.56 710.54,924.08 712.31,924.59 714.08,925.11 715.84,925.63 717.61,926.14 719.38,926.66 721.14,927.17 722.91,927.69 724.68,928.21 726.44,928.72 728.21,929.24 729.98,929.75 731.74,930.27 733.51,930.79 735.28,931.3 737.05,931.82 738.81,932.33 740.58,932.85 742.35,933.36 744.11,933.88 745.88,934.4 747.65,934.91 749.41,935.43 751.18,935.94 752.95,936.45 754.71,936.96 756.48,937.47 758.25,937.98 760.02,938.48 761.78,938.99 763.55,939.5 765.32,940.01 767.08,940.52 768.85,941.03 770.62,941.54 772.38,942.05 774.15,942.56 775.92,943.06 777.68,943.57 779.45,944.08 781.22,944.59 782.98,945.1 784.75,945.61 786.52,946.12 788.29,946.63 790.05,947.14 791.82,947.64 793.59,948.15 795.35,948.66 797.12,949.17 798.89,949.68 800.65,950.17 802.42,950.61 804.19,951.06 805.95,951.51 807.72,951.96 809.49,952.41 811.26,952.86 813.02,953.31 814.79,953.76 816.56,954.21 818.32,954.65 820.09,955.1 821.86,955.55 823.62,956 825.39,956.45 827.16,956.9 828.92,957.35 830.69,957.8 832.46,958.24 834.23,958.69 835.99,959.14 837.76,959.59 839.53,960.04 841.29,960.49 843.06,960.94 844.83,961.39 846.59,961.83 848.36,962.28 850.13,962.75 851.89,963.39 853.66,964.04 855.43,964.69 857.2,965.34 858.96,965.99 860.73,966.63 862.5,967.28 864.26,967.93 866.03,968.58 867.8,969.23 869.56,969.87 871.33,970.52 873.1,971.17 874.86,971.82 876.63,972.46 878.4,973.11 880.17,973.76 881.93,974.41 883.7,975.06 885.47,975.7 887.23,976.35 889,977" fill="none" stroke="#808080" stroke-width="10.5" stroke-linejoin="round" stroke-linecap="butt"/>
<path d="M212,720V744M202.3,720H221.7M202.3,744H221.7" stroke="#808080" stroke-width="10.5" fill="none"/>
<path d="M236.6,738.5V761M226.9,738.5H246.3M226.9,761H246.3" stroke="#808080" stroke-width="10.5" fill="none"/>
<path d="M303,757V778M293.3,757H312.7M293.3,778H312.7" stroke="#808080" stroke-width="10.5" fill="none"/>
<path d="M347,775V800M337.3,775H356.7M337.3,800H356.7" stroke="#808080" stroke-width="10.5" fill="none"/>
<path d="M396,796V815M386.3,796H405.7M386.3,815H405.7" stroke="#808080" stroke-width="10.5" fill="none"/>
<path d="M436,810V832M426.3,810H445.7M426.3,832H445.7" stroke="#808080" stroke-width="10.5" fill="none"/>
<path d="M489,826V856M479.3,826H498.7M479.3,856H498.7" stroke="#808080" stroke-width="10.5" fill="none"/>
<path d="M538,843.5V881.5M528.3,843.5H547.7M528.3,881.5H547.7" stroke="#808080" stroke-width="10.5" fill="none"/>
<path d="M574.3,864.5V893.2M564.6,864.5H584M564.6,893.2H584" stroke="#808080" stroke-width="10.5" fill="none"/>
<path d="M647.8,884.6V922M638.1,884.6H657.5M638.1,922H657.5" stroke="#808080" stroke-width="10.5" fill="none"/>
<path d="M665.3,894.8V933.6M655.6,894.8H675M655.6,933.6H675" stroke="#808080" stroke-width="10.5" fill="none"/>
<path d="M732.3,912.7V962.9M722.6,912.7H742M722.6,962.9H742" stroke="#808080" stroke-width="10.5" fill="none"/>
<path d="M767.4,925.4V975.7M757.7,925.4H777.1M757.7,975.7H777.1" stroke="#808080" stroke-width="10.5" fill="none"/>
<path d="M818.4,933.4V990.3M808.7,933.4H828.1M808.7,990.3H828.1" stroke="#808080" stroke-width="10.5" fill="none"/>
<path d="M864,942V1004M854.3,942H873.7M854.3,1004H873.7" stroke="#808080" stroke-width="10.5" fill="none"/>
<polyline points="184,809 185.77,808.93 187.53,808.86 189.3,808.79 191.07,808.73 192.83,808.66 194.6,808.59 196.37,808.52 198.14,808.45 199.9,808.38 201.67,808.31 203.44,808.25 205.2,808.18 206.97,808.11 208.74,808.04 210.5,807.97 212.27,807.9 214.04,807.83 215.8,807.77 217.57,807.7 219.34,807.63 221.11,807.56 222.87,807.49 224.64,807.42 226.41,807.35 228.17,807.29 229.94,807.22 231.71,807.15 233.47,807.08 235.24,807.01 237.01,806.94 238.77,806.88 240.54,806.81 242.31,806.74 244.08,806.67 245.84,806.6 247.61,806.53 249.38,806.46 251.14,806.4 252.91,806.33 254.68,806.26 256.44,806.19 258.21,806.12 259.98,806.05 261.74,805.98 263.51,805.92 265.28,805.85 267.05,805.78 268.81,805.71 270.58,805.64 272.35,805.57 274.11,805.5 275.88,805.44 277.65,805.37 279.41,805.3 281.18,805.23 282.95,805.16 284.71,805.09 286.48,805.02 288.25,804.96 290.02,804.89 291.78,804.82 293.55,804.75 295.32,804.68 297.08,804.61 298.85,804.54 300.62,804.43 302.38,804.23 304.15,804.02 305.92,803.82 307.68,803.62 309.45,803.41 311.22,803.21 312.98,803.01 314.75,802.8 316.52,802.6 318.29,802.4 320.05,802.19 321.82,801.99 323.59,801.79 325.35,801.58 327.12,801.38 328.89,801.18 330.65,800.97 332.42,800.77 334.19,800.57 335.95,800.37 337.72,800.16 339.49,799.96 341.26,799.76 343.02,799.55 344.79,799.35 346.56,799.15 348.32,798.94 350.09,798.74 351.86,798.54 353.62,798.33 355.39,798.13 357.16,797.93 358.92,797.72 360.69,797.52 362.46,797.32 364.23,797.11 365.99,796.91 367.76,796.71 369.53,796.5 371.29,796.3 373.06,796.1 374.83,795.89 376.59,795.69 378.36,795.49 380.13,795.29 381.89,795.08 383.66,794.88 385.43,794.68 387.2,794.47 388.96,794.27 390.73,794.07 392.5,793.86 394.26,793.66 396.03,793.46 397.8,793.25 399.56,793.05 401.33,792.91 403.1,792.78 404.86,792.66 406.63,792.54 408.4,792.41 410.17,792.29 411.93,792.16 413.7,792.04 415.47,791.92 417.23,791.79 419,791.67 420.77,791.55 422.53,791.42 424.3,791.3 426.07,791.18 427.83,791.05 429.6,790.93 431.37,790.8 433.14,790.68 434.9,790.56 436.67,790.43 438.44,790.31 440.2,790.19 441.97,790.06 443.74,789.94 445.5,789.81 447.27,789.69 449.04,789.57 450.8,789.44 452.57,789.32 454.34,789.2 456.11,789.07 457.87,788.95 459.64,788.83 461.41,788.7 463.17,788.58 464.94,788.45 466.71,788.33 468.47,788.21 470.24,788.08 472.01,787.96 473.77,787.84 475.54,787.71 477.31,787.59 479.08,787.46 480.84,787.34 482.61,787.22 484.38,787.09 486.14,786.97 487.91,786.85 489.68,786.72 491.44,786.6 493.21,786.48 494.98,786.35 496.74,786.23 498.51,786.1 500.28,785.98 502.05,785.84 503.81,785.7 505.58,785.55 507.35,785.41 509.11,785.27 510.88,785.13 512.65,784.99 514.41,784.85 516.18,784.71 517.95,784.56 519.71,784.42 521.48,784.28 523.25,784.14 525.02,784 526.78,783.86 528.55,783.72 530.32,783.57 532.08,783.43 533.85,783.29 535.62,783.15 537.38,783.01 539.15,782.87 540.92,782.73 542.68,782.59 544.45,782.44 546.22,782.3 547.98,782.16 549.75,782.02 551.52,781.88 553.29,781.74 555.05,781.6 556.82,781.45 558.59,781.31 560.35,781.17 562.12,781.03 563.89,780.89 565.65,780.75 567.42,780.61 569.19,780.46 570.95,780.32 572.72,780.18 574.49,780.04 576.26,779.9 578.02,779.76 579.79,779.62 581.56,779.48 583.32,779.33 585.09,779.19 586.86,779.05 588.62,778.91 590.39,778.77 592.16,778.63 593.92,778.49 595.69,778.34 597.46,778.2 599.23,778.06 600.99,777.95 602.76,777.86 604.53,777.77 606.29,777.69 608.06,777.6 609.83,777.51 611.59,777.42 613.36,777.33 615.13,777.24 616.89,777.16 618.66,777.07 620.43,776.98 622.2,776.89 623.96,776.8 625.73,776.71 627.5,776.63 629.26,776.54 631.03,776.45 632.8,776.36 634.56,776.27 636.33,776.18 638.1,776.1 639.86,776.01 641.63,775.92 643.4,775.83 645.17,775.74 646.93,775.65 648.7,775.57 650.47,775.48 652.23,775.39 654,775.3 655.77,775.21 657.53,775.12 659.3,775.03 661.07,774.95 662.83,774.86 664.6,774.77 666.37,774.68 668.14,774.59 669.9,774.5 671.67,774.42 673.44,774.33 675.2,774.24 676.97,774.15 678.74,774.06 680.5,773.97 682.27,773.89 684.04,773.8 685.8,773.71 687.57,773.62 689.34,773.53 691.11,773.44 692.87,773.36 694.64,773.27 696.41,773.18 698.17,773.09 699.94,773 701.71,772.94 703.47,772.87 705.24,772.81 707.01,772.74 708.77,772.68 710.54,772.61 712.31,772.54 714.08,772.48 715.84,772.41 717.61,772.35 719.38,772.28 721.14,772.22 722.91,772.15 724.68,772.09 726.44,772.02 728.21,771.96 729.98,771.89 731.74,771.82 733.51,771.76 735.28,771.69 737.05,771.63 738.81,771.56 740.58,771.5 742.35,771.43 744.11,771.37 745.88,771.3 747.65,771.24 749.41,771.17 751.18,771.1 752.95,771.04 754.71,770.97 756.48,770.91 758.25,770.84 760.02,770.78 761.78,770.71 763.55,770.65 765.32,770.58 767.08,770.52 768.85,770.45 770.62,770.38 772.38,770.32 774.15,770.25 775.92,770.19 777.68,770.12 779.45,770.06 781.22,769.99 782.98,769.93 784.75,769.86 786.52,769.8 788.29,769.73 790.05,769.66 791.82,769.6 793.59,769.53 795.35,769.47 797.12,769.4 798.89,769.34 800.65,769.27 802.42,769.21 804.19,769.14 805.95,769.08 807.72,769.01 809.49,768.94 811.26,768.88 813.02,768.81 814.79,768.75 816.56,768.68 818.32,768.62 820.09,768.55 821.86,768.49 823.62,768.42 825.39,768.36 827.16,768.29 828.92,768.23 830.69,768.16 832.46,768.09 834.23,768.03 835.99,767.96 837.76,767.9 839.53,767.83 841.29,767.77 843.06,767.7 844.83,767.64 846.59,767.57 848.36,767.51 850.13,767.44 851.89,767.37 853.66,767.31 855.43,767.24 857.2,767.18 858.96,767.11 860.73,767.05 862.5,766.98 864.26,766.92 866.03,766.85 867.8,766.79 869.56,766.72 871.33,766.65 873.1,766.59 874.86,766.52 876.63,766.46 878.4,766.39 880.17,766.33 881.93,766.26 883.7,766.2 885.47,766.13 887.23,766.07 889,766" fill="none" stroke="#000000" stroke-width="10.5" stroke-linejoin="round" stroke-linecap="butt"/>
<path d="M212,803.5V813.8M202.3,803.5H221.7M202.3,813.8H221.7" stroke="#000000" stroke-width="10.5" fill="none"/>
<path d="M266,799.8V811.5M256.3,799.8H275.7M256.3,811.5H275.7" stroke="#000000" stroke-width="10.5" fill="none"/>
<path d="M303,797.7V809.2M293.3,797.7H312.7M293.3,809.2H312.7" stroke="#000000" stroke-width="10.5" fill="none"/>
<path d="M347,804.8V807.9M337.3,804.8H356.7M337.3,807.9H356.7" stroke="#000000" stroke-width="10.5" fill="none"/>
<path d="M396,790.5V793.5M386.3,790.5H405.7M386.3,793.5H405.7" stroke="#000000" stroke-width="10.5" fill="none"/>
<path d="M432,789V796.5M422.3,789H441.7M422.3,796.5H441.7" stroke="#000000" stroke-width="10.5" fill="none"/>
<path d="M489,784.8V792.2M479.3,784.8H498.7M479.3,792.2H498.7" stroke="#000000" stroke-width="10.5" fill="none"/>
<path d="M542,774V794M532.3,774H551.7M532.3,794H551.7" stroke="#000000" stroke-width="10.5" fill="none"/>
<path d="M580,769.3V789M570.3,769.3H589.7M570.3,789H589.7" stroke="#000000" stroke-width="10.5" fill="none"/>
<path d="M638,771.5V777.8M628.3,771.5H647.7M628.3,777.8H647.7" stroke="#000000" stroke-width="10.5" fill="none"/>
<path d="M670,765V781M660.3,765H679.7M660.3,781H679.7" stroke="#000000" stroke-width="10.5" fill="none"/>
<path d="M728,764.8V778.7M718.3,764.8H737.7M718.3,778.7H737.7" stroke="#000000" stroke-width="10.5" fill="none"/>
<path d="M760,764V775.5M750.3,764H769.7M750.3,775.5H769.7" stroke="#000000" stroke-width="10.5" fill="none"/>
<path d="M823,760.3V774.7M813.3,760.3H832.7M813.3,774.7H832.7" stroke="#000000" stroke-width="10.5" fill="none"/>
<path d="M860,761.6V771.2M850.3,761.6H869.7M850.3,771.2H869.7" stroke="#000000" stroke-width="10.5" fill="none"/>
<polyline points="184,716.5 185.77,716.91 187.53,717.32 189.3,717.73 191.07,718.14 192.83,718.55 194.6,718.96 196.37,719.37 198.14,719.78 199.9,720.19 201.67,720.6 203.44,721.01 205.2,721.42 206.97,721.83 208.74,722.24 210.5,722.65 212.27,723.09 214.04,723.71 215.8,724.32 217.57,724.93 219.34,725.54 221.11,726.16 222.87,726.77 224.64,727.38 226.41,727.99 228.17,728.61 229.94,729.22 231.71,729.83 233.47,730.44 235.24,731.06 237.01,731.67 238.77,732.28 240.54,732.89 242.31,733.51 244.08,734.12 245.84,734.73 247.61,735.34 249.38,735.96 251.14,736.71 252.91,737.48 254.68,738.24 256.44,739.01 258.21,739.78 259.98,740.54 261.74,741.31 263.51,742.08 265.28,742.84 267.05,743.61 268.81,744.37 270.58,745.14 272.35,745.91 274.11,746.67 275.88,747.44 277.65,748.21 279.41,748.97 281.18,749.74 282.95,750.5 284.71,751.27 286.48,752.04 288.25,752.8 290.02,753.57 291.78,754.33 293.55,755.1 295.32,755.87 297.08,756.63 298.85,757.4 300.62,758.17 302.38,758.93 304.15,759.7 305.92,760.46 307.68,761.46 309.45,762.46 311.22,763.46 312.98,764.46 314.75,765.47 316.52,766.47 318.29,767.47 320.05,768.48 321.82,769.48 323.59,770.48 325.35,771.48 327.12,772.49 328.89,773.49 330.65,774.49 332.42,775.5 334.19,776.5 335.95,777.5 337.72,778.5 339.49,779.51 341.26,780.51 343.02,781.51 344.79,782.51 346.56,783.51 348.32,784.51 350.09,785.5 351.86,786.5 353.62,787.5 355.39,788.5 357.16,789.5 358.92,790.49 360.69,791.49 362.46,792.49 364.23,793.49 365.99,794.49 367.76,795.48 369.53,796.48 371.29,797.48 373.06,798.48 374.83,799.48 376.59,800.47 378.36,801.47 380.13,802.47 381.89,803.47 383.66,804.47 385.43,805.46 387.2,806.46 388.96,807.46 390.73,808.46 392.5,809.46 394.26,810.45 396.03,811.45 397.8,812.43 399.56,813.38 401.33,814.32 403.1,815.27 404.86,816.22 406.63,817.17 408.4,818.12 410.17,819.06 411.93,820.01 413.7,820.96 415.47,821.91 417.23,822.86 419,823.8 420.77,824.75 422.53,825.7 424.3,826.65 426.07,827.6 427.83,828.55 429.6,829.49 431.37,830.44 433.14,831.39 434.9,832.34 436.67,833.29 438.44,834.22 440.2,835.12 441.97,836.02 443.74,836.92 445.5,837.82 447.27,838.72 449.04,839.62 450.8,840.52 452.57,841.42 454.34,842.32 456.11,843.22 457.87,844.12 459.64,845.02 461.41,845.92 463.17,846.82 464.94,847.71 466.71,848.61 468.47,849.51 470.24,850.41 472.01,851.31 473.77,852.21 475.54,853.11 477.31,854.01 479.08,854.91 480.84,855.81 482.61,856.71 484.38,857.61 486.14,858.51 487.91,859.41 489.68,860.31 491.44,861.21 493.21,862.12 494.98,863.14 496.74,864.17 498.51,865.19 500.28,866.21 502.05,867.24 503.81,868.26 505.58,869.28 507.35,870.31 509.11,871.33 510.88,872.35 512.65,873.37 514.41,874.4 516.18,875.42 517.95,876.44 519.71,877.47 521.48,878.49 523.25,879.51 525.02,880.54 526.78,881.56 528.55,882.58 530.32,883.6 532.08,884.69 533.85,885.83 535.62,886.96 537.38,888.1 539.15,889.23 540.92,890.36 542.68,891.5 544.45,892.63 546.22,893.76 547.98,894.9 549.75,896.03 551.52,897.16 553.29,898.3 555.05,899.43 556.82,900.56 558.59,901.7 560.35,902.83 562.12,903.96 563.89,905.1 565.65,906.23 567.42,907.36 569.19,908.5 570.95,909.63 572.72,910.76 574.49,911.9 576.26,913.03 578.02,914.17 579.79,915.3 581.56,916.43 583.32,917.57 585.09,918.78 586.86,920.04 588.62,921.3 590.39,922.56 592.16,923.83 593.92,925.09 595.69,926.35 597.46,927.61 599.23,928.88 600.99,930.14 602.76,931.4 604.53,932.66 606.29,933.92 608.06,935.19 609.83,936.45 611.59,937.71 613.36,938.97 615.13,940.23 616.89,941.5 618.66,942.76 620.43,944.02 622.2,945.28 623.96,946.54 625.73,947.81 627.5,949.07 629.26,950.33 631.03,951.59 632.8,952.85 634.56,954.12 636.33,955.38 638.1,956.64 639.86,957.9 641.63,959.2 643.4,960.49 645.17,961.79 646.93,963.08 648.7,964.38 650.47,965.68 652.23,966.97 654,968.27 655.77,969.56 657.53,970.86 659.3,972.15 661.07,973.45 662.83,974.75 664.6,976.04 666.37,977.34 668.14,978.63 669.9,979.93 671.67,981.08 673.44,982.23 675.2,983.38 676.97,984.52 678.74,985.67 680.5,986.82 682.27,987.97 684.04,989.11 685.8,990.26 687.57,991.41 689.34,992.55 691.11,993.7 692.87,994.85 694.64,995.99 696.41,997.14 698.17,998.29 699.94,999.43 701.71,1000.58 703.47,1001.73 705.24,1002.88 707.01,1004.02 708.77,1005.17 710.54,1006.32 712.31,1007.46 714.08,1008.61 715.84,1009.76 717.61,1010.9 719.38,1012.05 721.14,1013.2 722.91,1014.34 724.68,1015.49 726.44,1016.64 728.21,1017.78 729.98,1018.91 731.74,1020.04 733.51,1021.17 735.28,1022.31 737.05,1023.44 738.81,1024.57 740.58,1025.7 742.35,1026.84 744.11,1027.97 745.88,1029.1 747.65,1030.24 749.41,1031.37 751.18,1032.5 752.95,1033.63 754.71,1034.77 756.48,1035.9 758.25,1037.03 760.02,1038.16 761.78,1039.3 763.55,1040.43 765.32,1041.56 767.08,1042.5 768.85,1043.32 770.62,1044.13 772.38,1044.95 774.15,1045.76 775.92,1046.58 777.68,1047.39 779.45,1048.21 781.22,1049.02 782.98,1049.84 784.75,1050.65 786.52,1051.47 788.29,1052.29 790.05,1053.1 791.82,1053.92 793.59,1054.73 795.35,1055.55 797.12,1056.36 798.89,1057.18 800.65,1057.99 802.42,1058.81 804.19,1059.63 805.95,1060.44 807.72,1061.26 809.49,1062.07 811.26,1062.89 813.02,1063.7 814.79,1064.52 816.56,1065.33 818.32,1066.19 820.09,1067.21 821.86,1068.23 823.62,1069.25 825.39,1070.27 827.16,1071.29 828.92,1072.31 830.69,1073.33 832.46,1074.35 834.23,1075.37 835.99,1076.39 837.76,1077.41 839.53,1078.43 841.29,1079.45 843.06,1080.47 844.83,1081.49 846.59,1082.51 848.36,1083.53 850.13,1084.55 851.89,1085.57 853.66,1086.59 855.43,1087.61 857.2,1088.63 858.96,1089.65 860.73,1090.67 862.5,1091.7 864.26,1092.72 866.03,1093.74 867.8,1094.76 869.56,1095.78 871.33,1096.8 873.1,1097.82 874.86,1098.84 876.63,1099.86 878.4,1100.88 880.17,1101.9 881.93,1102.92 883.7,1103.94 885.47,1104.96 887.23,1105.98 889,1107" fill="none" stroke="#009900" stroke-width="10.5" stroke-linejoin="round" stroke-linecap="butt"/>
<path d="M212,715.7V742M202.3,715.7H221.7M202.3,742H221.7" stroke="#009900" stroke-width="10.5" fill="none"/>
<path d="M249.5,722.8V748M239.8,722.8H259.2M239.8,748H259.2" stroke="#009900" stroke-width="10.5" fill="none"/>
<path d="M306,752.5V775M296.3,752.5H315.7M296.3,775H315.7" stroke="#009900" stroke-width="10.5" fill="none"/>
<path d="M343,775V795M333.3,775H352.7M333.3,795H352.7" stroke="#009900" stroke-width="10.5" fill="none"/>
<path d="M397,800V829.7M387.3,800H406.7M387.3,829.7H406.7" stroke="#009900" stroke-width="10.5" fill="none"/>
<path d="M438,820V839M428.3,820H447.7M428.3,839H447.7" stroke="#009900" stroke-width="10.5" fill="none"/>
<path d="M493,839V888.9M483.3,839H502.7M483.3,888.9H502.7" stroke="#009900" stroke-width="10.5" fill="none"/>
<path d="M531,855V901.7M521.3,855H540.7M521.3,901.7H540.7" stroke="#009900" stroke-width="10.5" fill="none"/>
<path d="M584,894V948M574.3,894H593.7M574.3,948H593.7" stroke="#009900" stroke-width="10.5" fill="none"/>
<path d="M640,927V993.3M630.3,927H649.7M630.3,993.3H649.7" stroke="#009900" stroke-width="10.5" fill="none"/>
<path d="M669.7,940V1024M660,940H679.4M660,1024H679.4" stroke="#009900" stroke-width="10.5" fill="none"/>
<path d="M726.7,957V1077.5M717,957H736.4M717,1077.5H736.4" stroke="#009900" stroke-width="10.5" fill="none"/>
<path d="M766.5,992V1092.4M756.8,992H776.2M756.8,1092.4H776.2" stroke="#009900" stroke-width="10.5" fill="none"/>
<path d="M818,990V1140.4M808.3,990H827.7M808.3,1140.4H827.7" stroke="#009900" stroke-width="10.5" fill="none"/>
<path d="M860.5,1030V1146.5M850.8,1030H870.2M850.8,1146.5H870.2" stroke="#009900" stroke-width="10.5" fill="none"/>
<polyline points="184,746 185.77,746.43 187.53,746.85 189.3,747.28 191.07,747.71 192.83,748.13 194.6,748.56 196.37,748.99 198.14,749.41 199.9,749.84 201.67,750.26 203.44,750.69 205.2,751.12 206.97,751.54 208.74,751.97 210.5,752.4 212.27,752.82 214.04,753.25 215.8,753.68 217.57,754.1 219.34,754.53 221.11,754.96 222.87,755.38 224.64,755.81 226.41,756.24 228.17,756.66 229.94,757.09 231.71,757.52 233.47,757.94 235.24,758.37 237.01,758.79 238.77,759.22 240.54,759.65 242.31,760.07 244.08,760.5 245.84,760.93 247.61,761.35 249.38,761.78 251.14,762.21 252.91,762.63 254.68,763.06 256.44,763.49 258.21,763.91 259.98,764.34 261.74,764.77 263.51,765.19 265.28,765.62 267.05,766.05 268.81,766.47 270.58,766.9 272.35,767.32 274.11,767.75 275.88,768.18 277.65,768.6 279.41,769.03 281.18,769.46 282.95,769.88 284.71,770.31 286.48,770.74 288.25,771.16 290.02,771.59 291.78,772.02 293.55,772.44 295.32,772.87 297.08,773.3 298.85,773.72 300.62,774.19 302.38,774.75 304.15,775.31 305.92,775.87 307.68,776.43 309.45,776.99 311.22,777.54 312.98,778.1 314.75,778.66 316.52,779.22 318.29,779.78 320.05,780.34 321.82,780.89 323.59,781.45 325.35,782.01 327.12,782.57 328.89,783.13 330.65,783.69 332.42,784.25 334.19,784.8 335.95,785.36 337.72,785.92 339.49,786.48 341.26,787.04 343.02,787.6 344.79,788.15 346.56,788.71 348.32,789.27 350.09,789.83 351.86,790.39 353.62,790.95 355.39,791.5 357.16,792.06 358.92,792.62 360.69,793.18 362.46,793.74 364.23,794.3 365.99,794.85 367.76,795.41 369.53,795.97 371.29,796.53 373.06,797.09 374.83,797.65 376.59,798.2 378.36,798.76 380.13,799.32 381.89,799.88 383.66,800.44 385.43,801 387.2,801.55 388.96,802.11 390.73,802.67 392.5,803.23 394.26,803.79 396.03,804.35 397.8,804.9 399.56,805.46 401.33,806.02 403.1,806.58 404.86,807.14 406.63,807.7 408.4,808.25 410.17,808.81 411.93,809.37 413.7,809.93 415.47,810.49 417.23,811.05 419,811.6 420.77,812.16 422.53,812.72 424.3,813.28 426.07,813.84 427.83,814.4 429.6,814.95 431.37,815.51 433.14,816.07 434.9,816.63 436.67,817.19 438.44,817.75 440.2,818.3 441.97,818.86 443.74,819.42 445.5,819.98 447.27,820.54 449.04,821.1 450.8,821.69 452.57,822.33 454.34,822.97 456.11,823.61 457.87,824.25 459.64,824.89 461.41,825.53 463.17,826.17 464.94,826.81 466.71,827.45 468.47,828.09 470.24,828.73 472.01,829.37 473.77,830.01 475.54,830.65 477.31,831.29 479.08,831.93 480.84,832.56 482.61,833.2 484.38,833.84 486.14,834.48 487.91,835.12 489.68,835.76 491.44,836.4 493.21,837.04 494.98,837.68 496.74,838.32 498.51,838.96 500.28,839.61 502.05,840.28 503.81,840.96 505.58,841.63 507.35,842.31 509.11,842.98 510.88,843.66 512.65,844.33 514.41,845.01 516.18,845.68 517.95,846.36 519.71,847.03 521.48,847.71 523.25,848.38 525.02,849.06 526.78,849.73 528.55,850.41 530.32,851.08 532.08,851.76 533.85,852.43 535.62,853.11 537.38,853.78 539.15,854.46 540.92,855.13 542.68,855.81 544.45,856.48 546.22,857.16 547.98,857.83 549.75,858.51 551.52,859.55 553.29,860.64 555.05,861.74 556.82,862.84 558.59,863.94 560.35,865.04 562.12,866.14 563.89,867.24 565.65,868.34 567.42,869.44 569.19,870.54 570.95,871.64 572.72,872.74 574.49,873.84 576.26,874.94 578.02,876.04 579.79,877.14 581.56,878.24 583.32,879.33 585.09,880.43 586.86,881.55 588.62,882.68 590.39,883.81 592.16,884.94 593.92,886.07 595.69,887.2 597.46,888.33 599.23,889.46 600.99,890.6 602.76,891.73 604.53,892.86 606.29,893.99 608.06,895.12 609.83,896.25 611.59,897.38 613.36,898.51 615.13,899.64 616.89,900.77 618.66,901.9 620.43,903.03 622.2,904.17 623.96,905.3 625.73,906.43 627.5,907.56 629.26,908.69 631.03,909.82 632.8,910.95 634.56,912.08 636.33,913.26 638.1,914.64 639.86,916.02 641.63,917.4 643.4,918.78 645.17,920.16 646.93,921.54 648.7,922.92 650.47,924.3 652.23,925.68 654,927.06 655.77,928.44 657.53,929.82 659.3,931.2 661.07,932.58 662.83,933.96 664.6,935.34 666.37,936.73 668.14,938.05 669.9,938.7 671.67,939.34 673.44,939.99 675.2,940.63 676.97,941.28 678.74,941.92 680.5,942.57 682.27,943.21 684.04,943.86 685.8,944.51 687.57,945.15 689.34,945.8 691.11,946.44 692.87,947.09 694.64,947.73 696.41,948.38 698.17,949.02 699.94,949.67 701.71,950.32 703.47,950.96 705.24,951.61 707.01,952.25 708.77,952.9 710.54,953.54 712.31,954.19 714.08,954.84 715.84,955.48 717.61,956.13 719.38,956.77 721.14,957.51 722.91,958.31 724.68,959.1 726.44,959.9 728.21,960.69 729.98,961.49 731.74,962.28 733.51,963.08 735.28,963.88 737.05,964.67 738.81,965.47 740.58,966.26 742.35,967.06 744.11,967.85 745.88,968.65 747.65,969.44 749.41,970.24 751.18,971.03 752.95,971.83 754.71,972.62 756.48,973.42 758.25,974.21 760.02,975.01 761.78,975.8 763.55,976.6 765.32,977.39 767.08,978.19 768.85,978.98 770.62,979.78 772.38,980.57 774.15,981.37 775.92,982.16 777.68,982.96 779.45,983.75 781.22,984.54 782.98,985.31 784.75,986.09 786.52,986.87 788.29,987.65 790.05,988.43 791.82,989.2 793.59,989.98 795.35,990.76 797.12,991.54 798.89,992.32 800.65,993.1 802.42,993.87 804.19,994.65 805.95,995.43 807.72,996.21 809.49,996.99 811.26,997.76 813.02,998.54 814.79,999.32 816.56,1000.1 818.32,1000.88 820.09,1001.65 821.86,1002.43 823.62,1003.21 825.39,1003.99 827.16,1004.77 828.92,1005.54 830.69,1006.32 832.46,1007.1 834.23,1007.88 835.99,1008.66 837.76,1009.44 839.53,1010.21 841.29,1010.99 843.06,1011.77 844.83,1012.55 846.59,1013.33 848.36,1014.1 850.13,1014.88 851.89,1015.66 853.66,1016.44 855.43,1017.22 857.2,1017.99 858.96,1018.77 860.73,1019.55 862.5,1020.33 864.26,1021.11 866.03,1021.88 867.8,1022.66 869.56,1023.44 871.33,1024.22 873.1,1025 874.86,1025.78 876.63,1026.55 878.4,1027.33 880.17,1028.11 881.93,1028.89 883.7,1029.67 885.47,1030.44 887.23,1031.22 889,1032" fill="none" stroke="#e35a5a" stroke-width="10.5" stroke-linejoin="round" stroke-linecap="butt"/>
<path d="M208.5,735V767.8M198.8,735H218.2M198.8,767.8H218.2" stroke="#e35a5a" stroke-width="10.5" fill="none"/>
<path d="M254.6,745V776M244.9,745H264.3M244.9,776H264.3" stroke="#e35a5a" stroke-width="10.5" fill="none"/>
<path d="M302,765V784M292.3,765H311.7M292.3,784H311.7" stroke="#e35a5a" stroke-width="10.5" fill="none"/>
<path d="M352,780V786M342.3,780H361.7M342.3,786H361.7" stroke="#e35a5a" stroke-width="10.5" fill="none"/>
<path d="M396,795V815M386.3,795H405.7M386.3,815H405.7" stroke="#e35a5a" stroke-width="10.5" fill="none"/>
<path d="M437.2,816.8V835M427.5,816.8H446.9M427.5,835H446.9" stroke="#e35a5a" stroke-width="10.5" fill="none"/>
<path d="M489.3,828.4V855M479.6,828.4H499M479.6,855H499" stroke="#e35a5a" stroke-width="10.5" fill="none"/>
<path d="M521.1,837.5V869.8M511.4,837.5H530.8M511.4,869.8H530.8" stroke="#e35a5a" stroke-width="10.5" fill="none"/>
<path d="M580.7,860.3V900M571,860.3H590.4M571,900H590.4" stroke="#e35a5a" stroke-width="10.5" fill="none"/>
<path d="M635.3,867V960M625.6,867H645M625.6,960H645" stroke="#e35a5a" stroke-width="10.5" fill="none"/>
<path d="M667.7,901V962M658,901H677.4M658,962H677.4" stroke="#e35a5a" stroke-width="10.5" fill="none"/>
<path d="M734.7,927.7V1002.7M725,927.7H744.4M725,1002.7H744.4" stroke="#e35a5a" stroke-width="10.5" fill="none"/>
<path d="M759.6,946.6V1007.8M749.9,946.6H769.3M749.9,1007.8H769.3" stroke="#e35a5a" stroke-width="10.5" fill="none"/>
<path d="M823.4,966.9V1045M813.7,966.9H833.1M813.7,1045H833.1" stroke="#e35a5a" stroke-width="10.5" fill="none"/>
<path d="M861,978V1064M851.3,978H870.7M851.3,1064H870.7" stroke="#e35a5a" stroke-width="10.5" fill="none"/>
<polyline points="184,739 185.77,739.36 187.53,739.72 189.3,740.08 191.07,740.45 192.83,740.81 194.6,741.17 196.37,741.53 198.14,741.89 199.9,742.25 201.67,742.61 203.44,742.98 205.2,743.34 206.97,743.7 208.74,744.06 210.5,744.42 212.27,744.78 214.04,745.14 215.8,745.51 217.57,745.87 219.34,746.23 221.11,746.59 222.87,746.95 224.64,747.31 226.41,747.67 228.17,748.04 229.94,748.4 231.71,748.76 233.47,749.12 235.24,749.48 237.01,749.84 238.77,750.2 240.54,750.57 242.31,750.93 244.08,751.29 245.84,751.65 247.61,752.01 249.38,752.37 251.14,752.96 252.91,753.66 254.68,754.37 256.44,755.08 258.21,755.78 259.98,756.49 261.74,757.2 263.51,757.9 265.28,758.61 267.05,759.32 268.81,760.02 270.58,760.73 272.35,761.44 274.11,762.15 275.88,762.85 277.65,763.56 279.41,764.27 281.18,764.97 282.95,765.68 284.71,766.39 286.48,767.09 288.25,767.8 290.02,768.51 291.78,769.21 293.55,769.92 295.32,770.63 297.08,771.33 298.85,772.04 300.62,772.68 302.38,773.22 304.15,773.75 305.92,774.28 307.68,774.81 309.45,775.34 311.22,775.87 312.98,776.4 314.75,776.93 316.52,777.46 318.29,777.99 320.05,778.52 321.82,779.05 323.59,779.58 325.35,780.11 327.12,780.64 328.89,781.17 330.65,781.7 332.42,782.23 334.19,782.76 335.95,783.29 337.72,783.82 339.49,784.35 341.26,784.88 343.02,785.41 344.79,785.94 346.56,786.47 348.32,787 350.09,787.53 351.86,788.21 353.62,788.88 355.39,789.55 357.16,790.22 358.92,790.89 360.69,791.56 362.46,792.23 364.23,792.91 365.99,793.58 367.76,794.25 369.53,794.92 371.29,795.59 373.06,796.26 374.83,796.93 376.59,797.61 378.36,798.28 380.13,798.95 381.89,799.62 383.66,800.29 385.43,800.96 387.2,801.63 388.96,802.31 390.73,802.98 392.5,803.65 394.26,804.32 396.03,804.99 397.8,805.66 399.56,806.33 401.33,807.01 403.1,807.69 404.86,808.37 406.63,809.05 408.4,809.73 410.17,810.4 411.93,811.08 413.7,811.76 415.47,812.44 417.23,813.12 419,813.8 420.77,814.47 422.53,815.15 424.3,815.83 426.07,816.51 427.83,817.19 429.6,817.87 431.37,818.55 433.14,819.22 434.9,819.9 436.67,820.58 438.44,821.26 440.2,821.94 441.97,822.62 443.74,823.29 445.5,823.97 447.27,824.65 449.04,825.33 450.8,826.03 452.57,826.74 454.34,827.45 456.11,828.17 457.87,828.88 459.64,829.59 461.41,830.31 463.17,831.02 464.94,831.74 466.71,832.45 468.47,833.16 470.24,833.88 472.01,834.59 473.77,835.3 475.54,836.02 477.31,836.73 479.08,837.45 480.84,838.16 482.61,838.87 484.38,839.59 486.14,840.3 487.91,841.02 489.68,841.73 491.44,842.44 493.21,843.16 494.98,843.87 496.74,844.58 498.51,845.3 500.28,846.01 502.05,846.68 503.81,847.36 505.58,848.03 507.35,848.71 509.11,849.38 510.88,850.06 512.65,850.73 514.41,851.41 516.18,852.08 517.95,852.76 519.71,853.43 521.48,854.11 523.25,854.78 525.02,855.46 526.78,856.13 528.55,856.81 530.32,857.48 532.08,858.16 533.85,858.83 535.62,859.51 537.38,860.18 539.15,860.86 540.92,861.53 542.68,862.21 544.45,862.88 546.22,863.56 547.98,864.23 549.75,864.91 551.52,865.98 553.29,867.12 555.05,868.26 556.82,869.4 558.59,870.54 560.35,871.68 562.12,872.82 563.89,873.96 565.65,875.1 567.42,876.24 569.19,877.38 570.95,878.52 572.72,879.66 574.49,880.8 576.26,881.94 578.02,883.08 579.79,884.22 581.56,885.41 583.32,886.71 585.09,888.02 586.86,889.32 588.62,890.62 590.39,891.93 592.16,893.23 593.92,894.53 595.69,895.84 597.46,897.14 599.23,898.45 600.99,899.75 602.76,901.05 604.53,902.36 606.29,903.66 608.06,904.96 609.83,906.27 611.59,907.57 613.36,908.87 615.13,910.18 616.89,911.48 618.66,912.78 620.43,914.09 622.2,915.39 623.96,916.69 625.73,918 627.5,919.3 629.26,920.6 631.03,921.91 632.8,923.21 634.56,924.51 636.33,925.82 638.1,927.12 639.86,928.42 641.63,929.73 643.4,930.77 645.17,931.75 646.93,932.72 648.7,933.7 650.47,934.67 652.23,935.65 654,936.62 655.77,937.6 657.53,938.57 659.3,939.55 661.07,940.52 662.83,941.49 664.6,942.47 666.37,943.44 668.14,944.42 669.9,945.39 671.67,946.37 673.44,947.34 675.2,948.32 676.97,949.29 678.74,950.27 680.5,951.24 682.27,952.22 684.04,953.19 685.8,954.17 687.57,955.14 689.34,956.12 691.11,957.09 692.87,958.07 694.64,959.04 696.41,960.02 698.17,960.99 699.94,961.97 701.71,962.77 703.47,963.56 705.24,964.36 707.01,965.15 708.77,965.95 710.54,966.74 712.31,967.54 714.08,968.33 715.84,969.13 717.61,969.92 719.38,970.72 721.14,971.51 722.91,972.31 724.68,973.1 726.44,973.9 728.21,974.69 729.98,975.49 731.74,976.28 733.51,977.08 735.28,977.88 737.05,978.67 738.81,979.47 740.58,980.29 742.35,981.17 744.11,982.06 745.88,982.94 747.65,983.82 749.41,984.71 751.18,985.59 752.95,986.47 754.71,987.36 756.48,988.24 758.25,989.12 760.02,990.01 761.78,990.89 763.55,991.77 765.32,992.66 767.08,993.54 768.85,994.42 770.62,995.31 772.38,996.19 774.15,997.08 775.92,997.96 777.68,998.84 779.45,999.73 781.22,1000.61 782.98,1001.51 784.75,1002.4 786.52,1003.29 788.29,1004.18 790.05,1005.07 791.82,1005.96 793.59,1006.86 795.35,1007.75 797.12,1008.64 798.89,1009.53 800.65,1010.42 802.42,1011.31 804.19,1012.2 805.95,1013.1 807.72,1013.99 809.49,1014.88 811.26,1015.77 813.02,1016.66 814.79,1017.55 816.56,1018.45 818.32,1019.34 820.09,1020.23 821.86,1021.12 823.62,1022.01 825.39,1022.9 827.16,1023.8 828.92,1024.69 830.69,1025.58 832.46,1026.47 834.23,1027.36 835.99,1028.25 837.76,1029.14 839.53,1030.04 841.29,1030.93 843.06,1031.82 844.83,1032.71 846.59,1033.6 848.36,1034.49 850.13,1035.39 851.89,1036.28 853.66,1037.17 855.43,1038.06 857.2,1038.95 858.96,1039.84 860.73,1040.73 862.5,1041.63 864.26,1042.52 866.03,1043.41 867.8,1044.3 869.56,1045.19 871.33,1046.08 873.1,1046.98 874.86,1047.87 876.63,1048.76 878.4,1049.65 880.17,1050.54 881.93,1051.43 883.7,1052.33 885.47,1053.22 887.23,1054.11 889,1055" fill="none" stroke="#a00000" stroke-width="10.5" stroke-linejoin="round" stroke-linecap="butt"/>
<path d="M208,729V755M198.3,729H217.7M198.3,755H217.7" stroke="#a00000" stroke-width="10.5" fill="none"/>
<path d="M265.8,752V770M256.1,752H275.5M256.1,770H275.5" stroke="#a00000" stroke-width="10.5" fill="none"/>
<path d="M302,768.4V776.4M292.3,768.4H311.7M292.3,776.4H311.7" stroke="#a00000" stroke-width="10.5" fill="none"/>
<path d="M341.1,775.5V800M331.4,775.5H350.8M331.4,800H350.8" stroke="#a00000" stroke-width="10.5" fill="none"/>
<path d="M395.6,800V814M385.9,800H405.3M385.9,814H405.3" stroke="#a00000" stroke-width="10.5" fill="none"/>
<path d="M435,822V827M425.3,822H444.7M425.3,827H444.7" stroke="#a00000" stroke-width="10.5" fill="none"/>
<path d="M488.2,833.8V858.2M478.5,833.8H497.9M478.5,858.2H497.9" stroke="#a00000" stroke-width="10.5" fill="none"/>
<path d="M535.4,855.8V875.2M525.7,855.8H545.1M525.7,875.2H545.1" stroke="#a00000" stroke-width="10.5" fill="none"/>
<path d="M580.7,872.8V902.7M571,872.8H590.4M571,902.7H590.4" stroke="#a00000" stroke-width="10.5" fill="none"/>
<path d="M642.5,876.8V990.3M632.8,876.8H652.2M632.8,990.3H652.2" stroke="#a00000" stroke-width="10.5" fill="none"/>
<path d="M666.5,925.5V971.7M656.8,925.5H676.2M656.8,971.7H676.2" stroke="#a00000" stroke-width="10.5" fill="none"/>
<path d="M736,961.6V1011.7M726.3,961.6H745.7M726.3,1011.7H745.7" stroke="#a00000" stroke-width="10.5" fill="none"/>
<path d="M764.6,974V1025.2M754.9,974H774.3M754.9,1025.2H774.3" stroke="#a00000" stroke-width="10.5" fill="none"/>
<path d="M822.2,995.4V1056.2M812.5,995.4H831.9M812.5,1056.2H831.9" stroke="#a00000" stroke-width="10.5" fill="none"/>
<path d="M862,1019V1069.8M852.3,1019H871.7M852.3,1069.8H871.7" stroke="#a00000" stroke-width="10.5" fill="none"/>
<line x1="183.6" y1="639.7" x2="183.6" y2="1195.8" stroke="#262626" stroke-width="1.3" />
<line x1="183.6" y1="1195.8" x2="889.5" y2="1195.8" stroke="#8a8a8a" stroke-width="2" />
<line x1="183.6" y1="1195.8" x2="190.6" y2="1195.8" stroke="#262626" stroke-width="1.3" />
<text transform="translate(94.52,1210.9) scale(1,1.035)" font-size="54" >-25</text>
<line x1="183.6" y1="1116.36" x2="190.6" y2="1116.36" stroke="#262626" stroke-width="1.3" />
<text transform="translate(94.36,1134.86) scale(1,1.035)" font-size="54" >-20</text>
<line x1="183.6" y1="1036.91" x2="190.6" y2="1036.91" stroke="#262626" stroke-width="1.3" />
<g transform="translate(94.52,1055.41) scale(1,1.035)"><text x="0" y="0" font-size="54" >-</text><path transform="translate(17.98,0) scale(0.02637,-0.02637)" d="M800,0L800,1436L684,1436C610,1305 420,1175 231,1114L231,925C370,977 510,1057 610,1157L610,0Z"/><text x="48.01" y="0" font-size="54" >5</text></g>
<line x1="183.6" y1="957.47" x2="190.6" y2="957.47" stroke="#262626" stroke-width="1.3" />
<g transform="translate(94.36,975.97) scale(1,1.035)"><text x="0" y="0" font-size="54" >-</text><path transform="translate(17.98,0) scale(0.02637,-0.02637)" d="M800,0L800,1436L684,1436C610,1305 420,1175 231,1114L231,925C370,977 510,1057 610,1157L610,0Z"/><text x="48.01" y="0" font-size="54" >0</text></g>
<line x1="183.6" y1="878.03" x2="190.6" y2="878.03" stroke="#262626" stroke-width="1.3" />
<text transform="translate(124.55,896.53) scale(1,1.035)" font-size="54" >-5</text>
<line x1="183.6" y1="798.59" x2="190.6" y2="798.59" stroke="#262626" stroke-width="1.3" />
<text transform="translate(142.38,817.09) scale(1,1.035)" font-size="54" >0</text>
<line x1="183.6" y1="719.14" x2="190.6" y2="719.14" stroke="#262626" stroke-width="1.3" />
<text transform="translate(142.54,737.64) scale(1,1.035)" font-size="54" >5</text>
<line x1="183.6" y1="639.7" x2="190.6" y2="639.7" stroke="#262626" stroke-width="1.3" />
<g transform="translate(112.34,658.2) scale(1,1.035)"><path transform="translate(0,0) scale(0.02637,-0.02637)" d="M800,0L800,1436L684,1436C610,1305 420,1175 231,1114L231,925C370,977 510,1057 610,1157L610,0Z"/><text x="30.03" y="0" font-size="54" >0</text></g>
<line x1="183.6" y1="1195.8" x2="183.6" y2="1188.8" stroke="#8a8a8a" stroke-width="1.3" />
<g transform="translate(127,1260) scale(1,1.035)"><text x="0" y="0" font-size="54" >-</text><path transform="translate(17.98,0) scale(0.02637,-0.02637)" d="M800,0L800,1436L684,1436C610,1305 420,1175 231,1114L231,925C370,977 510,1057 610,1157L610,0Z"/><text x="48.01" y="0" font-size="54" >00</text></g>
<line x1="418.9" y1="1195.8" x2="418.9" y2="1188.8" stroke="#8a8a8a" stroke-width="1.3" />
<text transform="translate(386.7,1260) scale(1,1.035)" font-size="54" >-50</text>
<line x1="654.2" y1="1195.8" x2="654.2" y2="1188.8" stroke="#8a8a8a" stroke-width="1.3" />
<text transform="translate(641.09,1260) scale(1,1.035)" font-size="54" >0</text>
<line x1="889.5" y1="1195.8" x2="889.5" y2="1188.8" stroke="#8a8a8a" stroke-width="1.3" />
<text transform="translate(864.14,1260) scale(1,1.035)" font-size="54" >50</text>
<text transform="translate(383.46,1328.5) scale(1,1.035)" font-size="54" >Voltage (mV)</text>
<text transform="translate(77.5,1050.02) rotate(-90) scale(1,1.035)" font-size="54" letter-spacing="0.55">&#916;<tspan font-style="italic">F/F</tspan> (%)</text>
<text transform="translate(-3.5,656)" font-size="64.5" >(b)</text>
<line x1="190.5" y1="972" x2="245" y2="972" stroke="#808080" stroke-width="9" />
<text transform="translate(247.4,990.2) scale(1,1.035)" font-size="54" >VARNAM</text>
<line x1="190.5" y1="1021.4" x2="245" y2="1021.4" stroke="#000000" stroke-width="9" />
<g transform="translate(247.4,1039.8) scale(1,1.035)"><text x="0" y="0" font-size="54" >FlicR</text><path transform="translate(122.98,0) scale(0.02637,-0.02637)" d="M800,0L800,1436L684,1436C610,1305 420,1175 231,1114L231,925C370,977 510,1057 610,1157L610,0Z"/></g>
<line x1="190.5" y1="1072.9" x2="245" y2="1072.9" stroke="#009900" stroke-width="9" />
<text transform="translate(247.4,1089.5) scale(1,1.035)" font-size="54" >Ace-mNeon</text>
<line x1="190.5" y1="1120.7" x2="245" y2="1120.7" stroke="#a00000" stroke-width="9" />
<text transform="translate(247.4,1139.3) scale(1,1.035)" font-size="54" >Ace-7aa-mScarlet</text>
<line x1="190.5" y1="1171.7" x2="245" y2="1171.7" stroke="#e35a5a" stroke-width="9" />
<text transform="translate(247.4,1190.2) scale(1,1.035)" font-size="54" >Ace-8aa-mScarlet</text>
<text transform="translate(839.9,1646.4) scale(1,1.035)" font-size="54" >75</text>
<text transform="translate(839.9,1731) scale(1,1.035)" font-size="54" >55</text>
<text transform="translate(839.9,1818.3) scale(1,1.035)" font-size="54" >35</text>
<g transform="translate(839.9,1904.3) scale(1,1.035)"><path transform="translate(0,0) scale(0.02637,-0.02637)" d="M800,0L800,1436L684,1436C610,1305 420,1175 231,1114L231,925C370,977 510,1057 610,1157L610,0Z"/><text x="30.03" y="0" font-size="54" >5</text></g>
<text transform="translate(692.69,1951.5) scale(1,1.035)" font-size="54" >SNR= 5</text>
<polyline points="183.4,1681 185.76,1683.44 188.13,1685.85 190.49,1688.25 192.86,1690.62 195.22,1692.97 197.58,1695.3 199.95,1697.62 202.31,1699.91 204.68,1702.18 207.04,1704.43 209.41,1706.66 211.77,1708.87 214.13,1711.06 216.5,1713.23 218.86,1715.39 221.23,1717.52 223.59,1719.63 225.95,1721.73 228.32,1723.81 230.68,1725.87 233.05,1727.91 235.41,1729.93 237.78,1731.94 240.14,1733.93 242.5,1735.9 244.87,1737.85 247.23,1739.79 249.6,1741.7 251.96,1743.61 254.32,1745.49 256.69,1747.36 259.05,1749.21 261.42,1751.05 263.78,1752.87 266.14,1754.67 268.51,1756.46 270.87,1758.23 273.24,1759.98 275.6,1761.72 277.97,1763.45 280.33,1765.16 282.69,1766.85 285.06,1768.53 287.42,1770.2 289.79,1771.85 292.15,1773.49 294.51,1775.11 296.88,1776.71 299.24,1778.31 301.61,1779.89 303.97,1781.45 306.34,1783 308.7,1784.54 311.06,1786.06 313.43,1787.57 315.79,1789.07 318.16,1790.56 320.52,1792.03 322.88,1793.48 325.25,1794.93 327.61,1796.36 329.98,1797.78 332.34,1799.19 334.7,1800.58 337.07,1801.97 339.43,1803.34 341.8,1804.69 344.16,1806.04 346.53,1807.37 348.89,1808.7 351.25,1810.01 353.62,1811.31 355.98,1812.59 358.35,1813.87 360.71,1815.14 363.07,1816.39 365.44,1817.63 367.8,1818.86 370.17,1820.09 372.53,1821.3 374.89,1822.5 377.26,1823.69 379.62,1824.86 381.99,1826.03 384.35,1827.19 386.72,1828.34 389.08,1829.48 391.44,1830.6 393.81,1831.72 396.17,1832.83 398.54,1833.93 400.9,1835.01 403.26,1836.09 405.63,1837.16 407.99,1838.22 410.36,1839.27 412.72,1840.31 415.09,1841.35 417.45,1842.37 419.81,1843.38 422.18,1844.39 424.54,1845.38 426.91,1846.37 429.27,1847.35 431.63,1848.32 434,1849.28 436.36,1850.23 438.73,1851.18 441.09,1852.11 443.45,1853.04 445.82,1853.96 448.18,1854.87 450.55,1855.78 452.91,1856.67 455.28,1857.56 457.64,1858.44 460,1859.31 462.37,1860.17 464.73,1861.03 467.1,1861.88 469.46,1862.72 471.82,1863.56 474.19,1864.38 476.55,1865.2 478.92,1866.02 481.28,1866.82 483.65,1867.62 486.01,1868.41 488.37,1869.19 490.74,1869.97 493.1,1870.74 495.47,1871.51 497.83,1872.26 500.19,1873.01 502.56,1873.76 504.92,1874.49 507.29,1875.22 509.65,1875.95 512.01,1876.66 514.38,1877.38 516.74,1878.08 519.11,1878.78 521.47,1879.47 523.84,1880.16 526.2,1880.84 528.56,1881.51 530.93,1882.18 533.29,1882.84 535.66,1883.5 538.02,1884.15 540.38,1884.8 542.75,1885.44 545.11,1886.07 547.48,1886.7 549.84,1887.32 552.21,1887.94 554.57,1888.55 556.93,1889.16 559.3,1889.76 561.66,1890.35 564.03,1890.95 566.39,1891.53 568.75,1892.11 571.12,1892.69 573.48,1893.26 575.85,1893.82 578.21,1894.38 580.57,1894.94 582.94,1895.49 585.3,1896.03 587.67,1896.57 590.03,1897.11 592.4,1897.64 594.76,1898.16 597.12,1898.69 599.49,1899.2 601.85,1899.72 604.22,1900.22 606.58,1900.73 608.94,1901.23 611.31,1901.72 613.67,1902.21 616.04,1902.7 618.4,1903.18 620.77,1903.66 623.13,1904.13 625.49,1904.6 627.86,1905.06 630.22,1905.52 632.59,1905.98 634.95,1906.43 637.31,1906.88 639.68,1907.33 642.04,1907.77 644.41,1908.2 646.77,1908.64 649.13,1909.07 651.5,1909.49 653.86,1909.91 656.23,1910.33 658.59,1910.75 660.96,1911.16 663.32,1911.56 665.68,1911.97 668.05,1912.37 670.41,1912.76 672.78,1913.16 675.14,1913.55 677.5,1913.93 679.87,1914.31 682.23,1914.69 684.6,1915.07 686.96,1915.44 689.32,1915.81 691.69,1916.18 694.05,1916.54 696.42,1916.9 698.78,1917.26 701.15,1917.61 703.51,1917.96 705.87,1918.31 708.24,1918.65 710.6,1918.99 712.97,1919.33 715.33,1919.66 717.69,1920 720.06,1920.32 722.42,1920.65 724.79,1920.97 727.15,1921.29 729.52,1921.61 731.88,1921.93 734.24,1922.24 736.61,1922.55 738.97,1922.85 741.34,1923.16 743.7,1923.46 746.06,1923.76 748.43,1924.05 750.79,1924.35 753.16,1924.64 755.52,1924.93 757.88,1925.21 760.25,1925.49 762.61,1925.78 764.98,1926.05 767.34,1926.33 769.71,1926.6 772.07,1926.87 774.43,1927.14 776.8,1927.41 779.16,1927.67 781.53,1927.93 783.89,1928.19 786.25,1928.45 788.62,1928.7 790.98,1928.95 793.35,1929.21 795.71,1929.45 798.08,1929.7 800.44,1929.94 802.8,1930.18 805.17,1930.42 807.53,1930.66 809.9,1930.89 812.26,1931.13 814.62,1931.36 816.99,1931.59 819.35,1931.81 821.72,1932.04 824.08,1932.26 826.44,1932.48 828.81,1932.7 831.17,1932.92 833.54,1933.13 835.9,1933.35 838.27,1933.56 840.63,1933.77 842.99,1933.97 845.36,1934.18 847.72,1934.38 850.09,1934.59 852.45,1934.79 854.81,1934.99 857.18,1935.18 859.54,1935.38 861.91,1935.57 864.27,1935.76 866.64,1935.95 869,1936.14 871.36,1936.33 873.73,1936.51 876.09,1936.7 878.46,1936.88 880.82,1937.06 883.18,1937.24 885.55,1937.41 887.91,1937.59 890.28,1937.76" fill="none" stroke="#858585" stroke-width="2.3" stroke-linejoin="round" stroke-dasharray="13.5,7.5"/>
<polyline points="291.59,1404.7 293.59,1408.83 295.6,1412.93 297.6,1417 299.6,1421.04 301.6,1425.05 303.6,1429.03 305.61,1432.98 307.61,1436.9 309.61,1440.79 311.61,1444.65 313.62,1448.48 315.62,1452.29 317.62,1456.06 319.62,1459.81 321.62,1463.53 323.63,1467.22 325.63,1470.88 327.63,1474.52 329.63,1478.13 331.64,1481.71 333.64,1485.27 335.64,1488.8 337.64,1492.3 339.65,1495.77 341.65,1499.22 343.65,1502.65 345.65,1506.05 347.65,1509.42 349.66,1512.77 351.66,1516.09 353.66,1519.39 355.66,1522.66 357.67,1525.91 359.67,1529.14 361.67,1532.34 363.67,1535.52 365.68,1538.67 367.68,1541.8 369.68,1544.91 371.68,1547.99 373.68,1551.05 375.69,1554.09 377.69,1557.1 379.69,1560.09 381.69,1563.06 383.7,1566.01 385.7,1568.93 387.7,1571.84 389.7,1574.72 391.71,1577.58 393.71,1580.42 395.71,1583.24 397.71,1586.03 399.71,1588.81 401.72,1591.56 403.72,1594.3 405.72,1597.01 407.72,1599.7 409.73,1602.38 411.73,1605.03 413.73,1607.66 415.73,1610.28 417.73,1612.87 419.74,1615.45 421.74,1618 423.74,1620.54 425.74,1623.06 427.75,1625.56 429.75,1628.04 431.75,1630.5 433.75,1632.94 435.76,1635.37 437.76,1637.77 439.76,1640.16 441.76,1642.53 443.76,1644.89 445.77,1647.22 447.77,1649.54 449.77,1651.84 451.77,1654.12 453.78,1656.39 455.78,1658.64 457.78,1660.87 459.78,1663.09 461.79,1665.29 463.79,1667.47 465.79,1669.64 467.79,1671.79 469.79,1673.92 471.8,1676.04 473.8,1678.14 475.8,1680.23 477.8,1682.3 479.81,1684.36 481.81,1686.4 483.81,1688.42 485.81,1690.43 487.82,1692.43 489.82,1694.41 491.82,1696.37 493.82,1698.33 495.82,1700.26 497.83,1702.18 499.83,1704.09 501.83,1705.98 503.83,1707.86 505.84,1709.73 507.84,1711.58 509.84,1713.41 511.84,1715.24 513.85,1717.05 515.85,1718.84 517.85,1720.63 519.85,1722.4 521.85,1724.15 523.86,1725.89 525.86,1727.62 527.86,1729.34 529.86,1731.05 531.87,1732.74 533.87,1734.42 535.87,1736.08 537.87,1737.74 539.87,1739.38 541.88,1741.01 543.88,1742.62 545.88,1744.23 547.88,1745.82 549.89,1747.4 551.89,1748.97 553.89,1750.53 555.89,1752.07 557.9,1753.61 559.9,1755.13 561.9,1756.64 563.9,1758.14 565.9,1759.63 567.91,1761.11 569.91,1762.58 571.91,1764.03 573.91,1765.48 575.92,1766.91 577.92,1768.33 579.92,1769.75 581.92,1771.15 583.93,1772.54 585.93,1773.92 587.93,1775.29 589.93,1776.65 591.93,1778 593.94,1779.34 595.94,1780.68 597.94,1782 599.94,1783.31 601.95,1784.61 603.95,1785.9 605.95,1787.18 607.95,1788.45 609.96,1789.71 611.96,1790.97 613.96,1792.21 615.96,1793.44 617.96,1794.67 619.97,1795.88 621.97,1797.09 623.97,1798.29 625.97,1799.48 627.98,1800.66 629.98,1801.83 631.98,1802.99 633.98,1804.14 635.99,1805.29 637.99,1806.43 639.99,1807.55 641.99,1808.67 643.99,1809.78 646,1810.89 648,1811.98 650,1813.07 652,1814.15 654.01,1815.22 656.01,1816.28 658.01,1817.33 660.01,1818.38 662.01,1819.42 664.02,1820.45 666.02,1821.47 668.02,1822.49 670.02,1823.5 672.03,1824.5 674.03,1825.49 676.03,1826.47 678.03,1827.45 680.04,1828.42 682.04,1829.39 684.04,1830.34 686.04,1831.29 688.04,1832.23 690.05,1833.17 692.05,1834.1 694.05,1835.02 696.05,1835.93 698.06,1836.84 700.06,1837.74 702.06,1838.63 704.06,1839.52 706.07,1840.4 708.07,1841.28 710.07,1842.14 712.07,1843 714.07,1843.86 716.08,1844.71 718.08,1845.55 720.08,1846.38 722.08,1847.21 724.09,1848.04 726.09,1848.85 728.09,1849.66 730.09,1850.47 732.1,1851.27 734.1,1852.06 736.1,1852.85 738.1,1853.63 740.1,1854.4 742.11,1855.17 744.11,1855.93 746.11,1856.69 748.11,1857.44 750.12,1858.19 752.12,1858.93 754.12,1859.67 756.12,1860.4 758.13,1861.12 760.13,1861.84 762.13,1862.55 764.13,1863.26 766.13,1863.97 768.14,1864.66 770.14,1865.36 772.14,1866.04 774.14,1866.73 776.15,1867.4 778.15,1868.07 780.15,1868.74 782.15,1869.4 784.15,1870.06 786.16,1870.71 788.16,1871.36 790.16,1872 792.16,1872.64 794.17,1873.27 796.17,1873.9 798.17,1874.53 800.17,1875.14 802.18,1875.76 804.18,1876.37 806.18,1876.97 808.18,1877.57 810.18,1878.17 812.19,1878.76 814.19,1879.35 816.19,1879.93 818.19,1880.51 820.2,1881.08 822.2,1881.65 824.2,1882.22 826.2,1882.78 828.21,1883.34 830.21,1883.89 832.21,1884.44 834.21,1884.98 836.21,1885.52 838.22,1886.06 840.22,1886.59 842.22,1887.12 844.22,1887.65 846.23,1888.17 848.23,1888.68 850.23,1889.2 852.23,1889.71 854.24,1890.21 856.24,1890.71 858.24,1891.21 860.24,1891.7 862.24,1892.2 864.25,1892.68 866.25,1893.17 868.25,1893.64 870.25,1894.12 872.26,1894.59 874.26,1895.06 876.26,1895.53 878.26,1895.99 880.26,1896.45 882.27,1896.9 884.27,1897.35 886.27,1897.8 888.27,1898.25 890.28,1898.69" fill="none" stroke="#858585" stroke-width="2.3" stroke-linejoin="round" stroke-dasharray="13.5,7.5"/>
<polyline points="517.68,1404.7 518.92,1407.27 520.17,1409.84 521.41,1412.39 522.66,1414.93 523.91,1417.45 525.15,1419.97 526.4,1422.47 527.64,1424.97 528.89,1427.45 530.14,1429.91 531.38,1432.37 532.63,1434.82 533.88,1437.25 535.12,1439.67 536.37,1442.09 537.61,1444.49 538.86,1446.88 540.11,1449.25 541.35,1451.62 542.6,1453.98 543.84,1456.32 545.09,1458.66 546.34,1460.98 547.58,1463.29 548.83,1465.6 550.08,1467.89 551.32,1470.17 552.57,1472.44 553.81,1474.7 555.06,1476.94 556.31,1479.18 557.55,1481.41 558.8,1483.63 560.04,1485.83 561.29,1488.03 562.54,1490.22 563.78,1492.39 565.03,1494.56 566.28,1496.72 567.52,1498.86 568.77,1501 570.01,1503.12 571.26,1505.24 572.51,1507.35 573.75,1509.44 575,1511.53 576.24,1513.61 577.49,1515.67 578.74,1517.73 579.98,1519.78 581.23,1521.82 582.48,1523.85 583.72,1525.87 584.97,1527.88 586.21,1529.88 587.46,1531.87 588.71,1533.85 589.95,1535.82 591.2,1537.79 592.44,1539.74 593.69,1541.69 594.94,1543.62 596.18,1545.55 597.43,1547.47 598.68,1549.38 599.92,1551.28 601.17,1553.17 602.41,1555.06 603.66,1556.93 604.91,1558.8 606.15,1560.65 607.4,1562.5 608.64,1564.34 609.89,1566.17 611.14,1567.99 612.38,1569.81 613.63,1571.61 614.88,1573.41 616.12,1575.2 617.37,1576.98 618.61,1578.75 619.86,1580.51 621.11,1582.27 622.35,1584.02 623.6,1585.76 624.84,1587.49 626.09,1589.21 627.34,1590.93 628.58,1592.63 629.83,1594.33 631.08,1596.02 632.32,1597.71 633.57,1599.38 634.81,1601.05 636.06,1602.71 637.31,1604.36 638.55,1606.01 639.8,1607.64 641.04,1609.27 642.29,1610.89 643.54,1612.51 644.78,1614.11 646.03,1615.71 647.28,1617.3 648.52,1618.89 649.77,1620.47 651.01,1622.04 652.26,1623.6 653.51,1625.15 654.75,1626.7 656,1628.24 657.25,1629.77 658.49,1631.3 659.74,1632.82 660.98,1634.33 662.23,1635.83 663.48,1637.33 664.72,1638.82 665.97,1640.31 667.21,1641.78 668.46,1643.25 669.71,1644.72 670.95,1646.17 672.2,1647.62 673.45,1649.07 674.69,1650.5 675.94,1651.93 677.18,1653.36 678.43,1654.77 679.68,1656.18 680.92,1657.58 682.17,1658.98 683.41,1660.37 684.66,1661.75 685.91,1663.13 687.15,1664.5 688.4,1665.87 689.65,1667.22 690.89,1668.58 692.14,1669.92 693.38,1671.26 694.63,1672.59 695.88,1673.92 697.12,1675.24 698.37,1676.55 699.61,1677.86 700.86,1679.16 702.11,1680.46 703.35,1681.75 704.6,1683.03 705.85,1684.31 707.09,1685.58 708.34,1686.85 709.58,1688.11 710.83,1689.36 712.08,1690.61 713.32,1691.85 714.57,1693.09 715.81,1694.32 717.06,1695.55 718.31,1696.77 719.55,1697.98 720.8,1699.19 722.05,1700.39 723.29,1701.59 724.54,1702.78 725.78,1703.97 727.03,1705.15 728.28,1706.32 729.52,1707.49 730.77,1708.65 732.01,1709.81 733.26,1710.97 734.51,1712.11 735.75,1713.26 737,1714.39 738.25,1715.53 739.49,1716.65 740.74,1717.77 741.98,1718.89 743.23,1720 744.48,1721.11 745.72,1722.21 746.97,1723.3 748.21,1724.39 749.46,1725.48 750.71,1726.56 751.95,1727.63 753.2,1728.7 754.45,1729.77 755.69,1730.83 756.94,1731.88 758.18,1732.93 759.43,1733.98 760.68,1735.02 761.92,1736.05 763.17,1737.09 764.41,1738.11 765.66,1739.13 766.91,1740.15 768.15,1741.16 769.4,1742.17 770.65,1743.17 771.89,1744.17 773.14,1745.16 774.38,1746.15 775.63,1747.13 776.88,1748.11 778.12,1749.09 779.37,1750.06 780.61,1751.02 781.86,1751.98 783.11,1752.94 784.35,1753.89 785.6,1754.84 786.85,1755.78 788.09,1756.72 789.34,1757.66 790.58,1758.59 791.83,1759.51 793.08,1760.44 794.32,1761.35 795.57,1762.27 796.81,1763.17 798.06,1764.08 799.31,1764.98 800.55,1765.88 801.8,1766.77 803.05,1767.65 804.29,1768.54 805.54,1769.42 806.78,1770.29 808.03,1771.16 809.28,1772.03 810.52,1772.9 811.77,1773.75 813.01,1774.61 814.26,1775.46 815.51,1776.31 816.75,1777.15 818,1777.99 819.25,1778.83 820.49,1779.66 821.74,1780.49 822.98,1781.31 824.23,1782.13 825.48,1782.95 826.72,1783.76 827.97,1784.57 829.21,1785.37 830.46,1786.17 831.71,1786.97 832.95,1787.76 834.2,1788.55 835.45,1789.34 836.69,1790.12 837.94,1790.9 839.18,1791.68 840.43,1792.45 841.68,1793.22 842.92,1793.98 844.17,1794.74 845.41,1795.5 846.66,1796.25 847.91,1797 849.15,1797.75 850.4,1798.49 851.65,1799.23 852.89,1799.97 854.14,1800.7 855.38,1801.43 856.63,1802.16 857.88,1802.88 859.12,1803.6 860.37,1804.32 861.61,1805.03 862.86,1805.74 864.11,1806.45 865.35,1807.15 866.6,1807.85 867.85,1808.54 869.09,1809.24 870.34,1809.93 871.58,1810.61 872.83,1811.3 874.08,1811.98 875.32,1812.66 876.57,1813.33 877.81,1814 879.06,1814.67 880.31,1815.33 881.55,1815.99 882.8,1816.65 884.05,1817.31 885.29,1817.96 886.54,1818.61 887.78,1819.26 889.03,1819.9 890.28,1820.54" fill="none" stroke="#858585" stroke-width="2.3" stroke-linejoin="round" stroke-dasharray="13.5,7.5"/>
<polyline points="638.28,1404.7 639.12,1406.44 639.96,1408.18 640.81,1409.91 641.65,1411.64 642.49,1413.36 643.34,1415.07 644.18,1416.78 645.02,1418.49 645.86,1420.19 646.71,1421.88 647.55,1423.57 648.39,1425.25 649.24,1426.93 650.08,1428.6 650.92,1430.27 651.76,1431.93 652.61,1433.59 653.45,1435.24 654.29,1436.89 655.13,1438.53 655.98,1440.16 656.82,1441.8 657.66,1443.42 658.51,1445.04 659.35,1446.66 660.19,1448.27 661.03,1449.87 661.88,1451.47 662.72,1453.07 663.56,1454.66 664.41,1456.24 665.25,1457.82 666.09,1459.4 666.93,1460.97 667.78,1462.53 668.62,1464.09 669.46,1465.65 670.31,1467.2 671.15,1468.75 671.99,1470.29 672.83,1471.82 673.68,1473.35 674.52,1474.88 675.36,1476.4 676.2,1477.92 677.05,1479.43 677.89,1480.94 678.73,1482.44 679.58,1483.94 680.42,1485.43 681.26,1486.92 682.1,1488.4 682.95,1489.88 683.79,1491.35 684.63,1492.82 685.48,1494.29 686.32,1495.75 687.16,1497.2 688,1498.65 688.85,1500.1 689.69,1501.54 690.53,1502.98 691.38,1504.41 692.22,1505.84 693.06,1507.26 693.9,1508.68 694.75,1510.1 695.59,1511.51 696.43,1512.91 697.27,1514.32 698.12,1515.71 698.96,1517.1 699.8,1518.49 700.65,1519.88 701.49,1521.26 702.33,1522.63 703.17,1524 704.02,1525.37 704.86,1526.73 705.7,1528.09 706.55,1529.44 707.39,1530.79 708.23,1532.14 709.07,1533.48 709.92,1534.81 710.76,1536.15 711.6,1537.47 712.45,1538.8 713.29,1540.12 714.13,1541.43 714.97,1542.75 715.82,1544.05 716.66,1545.36 717.5,1546.65 718.34,1547.95 719.19,1549.24 720.03,1550.53 720.87,1551.81 721.72,1553.09 722.56,1554.36 723.4,1555.63 724.24,1556.9 725.09,1558.16 725.93,1559.42 726.77,1560.68 727.62,1561.93 728.46,1563.18 729.3,1564.42 730.14,1565.66 730.99,1566.89 731.83,1568.12 732.67,1569.35 733.52,1570.57 734.36,1571.79 735.2,1573.01 736.04,1574.22 736.89,1575.43 737.73,1576.63 738.57,1577.83 739.41,1579.03 740.26,1580.22 741.1,1581.41 741.94,1582.6 742.79,1583.78 743.63,1584.96 744.47,1586.13 745.31,1587.3 746.16,1588.47 747,1589.63 747.84,1590.79 748.69,1591.95 749.53,1593.1 750.37,1594.25 751.21,1595.39 752.06,1596.53 752.9,1597.67 753.74,1598.81 754.59,1599.94 755.43,1601.06 756.27,1602.19 757.11,1603.31 757.96,1604.42 758.8,1605.54 759.64,1606.65 760.49,1607.75 761.33,1608.85 762.17,1609.95 763.01,1611.05 763.86,1612.14 764.7,1613.23 765.54,1614.31 766.38,1615.4 767.23,1616.47 768.07,1617.55 768.91,1618.62 769.76,1619.69 770.6,1620.75 771.44,1621.81 772.28,1622.87 773.13,1623.93 773.97,1624.98 774.81,1626.03 775.66,1627.07 776.5,1628.11 777.34,1629.15 778.18,1630.18 779.03,1631.22 779.87,1632.24 780.71,1633.27 781.56,1634.29 782.4,1635.31 783.24,1636.33 784.08,1637.34 784.93,1638.35 785.77,1639.35 786.61,1640.36 787.45,1641.35 788.3,1642.35 789.14,1643.34 789.98,1644.33 790.83,1645.32 791.67,1646.31 792.51,1647.29 793.35,1648.26 794.2,1649.24 795.04,1650.21 795.88,1651.18 796.73,1652.14 797.57,1653.11 798.41,1654.07 799.25,1655.02 800.1,1655.97 800.94,1656.93 801.78,1657.87 802.63,1658.82 803.47,1659.76 804.31,1660.7 805.15,1661.63 806,1662.56 806.84,1663.49 807.68,1664.42 808.52,1665.34 809.37,1666.26 810.21,1667.18 811.05,1668.1 811.9,1669.01 812.74,1669.92 813.58,1670.82 814.42,1671.73 815.27,1672.63 816.11,1673.53 816.95,1674.42 817.8,1675.31 818.64,1676.2 819.48,1677.09 820.32,1677.97 821.17,1678.85 822.01,1679.73 822.85,1680.61 823.7,1681.48 824.54,1682.35 825.38,1683.22 826.22,1684.08 827.07,1684.94 827.91,1685.8 828.75,1686.66 829.59,1687.51 830.44,1688.36 831.28,1689.21 832.12,1690.06 832.97,1690.9 833.81,1691.74 834.65,1692.58 835.49,1693.41 836.34,1694.24 837.18,1695.07 838.02,1695.9 838.87,1696.72 839.71,1697.55 840.55,1698.36 841.39,1699.18 842.24,1700 843.08,1700.81 843.92,1701.62 844.77,1702.42 845.61,1703.23 846.45,1704.03 847.29,1704.83 848.14,1705.62 848.98,1706.42 849.82,1707.21 850.66,1708 851.51,1708.78 852.35,1709.57 853.19,1710.35 854.04,1711.13 854.88,1711.9 855.72,1712.68 856.56,1713.45 857.41,1714.22 858.25,1714.98 859.09,1715.75 859.94,1716.51 860.78,1717.27 861.62,1718.02 862.46,1718.78 863.31,1719.53 864.15,1720.28 864.99,1721.03 865.84,1721.77 866.68,1722.52 867.52,1723.26 868.36,1724 869.21,1724.73 870.05,1725.46 870.89,1726.2 871.73,1726.92 872.58,1727.65 873.42,1728.37 874.26,1729.1 875.11,1729.82 875.95,1730.53 876.79,1731.25 877.63,1731.96 878.48,1732.67 879.32,1733.38 880.16,1734.09 881.01,1734.79 881.85,1735.49 882.69,1736.19 883.53,1736.89 884.38,1737.58 885.22,1738.28 886.06,1738.97 886.91,1739.66 887.75,1740.34 888.59,1741.03 889.43,1741.71 890.28,1742.39" fill="none" stroke="#858585" stroke-width="2.3" stroke-linejoin="round" stroke-dasharray="13.5,7.5"/>
<polyline points="721.04,1404.7 721.6,1405.87 722.17,1407.04 722.74,1408.21 723.3,1409.37 723.87,1410.53 724.43,1411.69 725,1412.84 725.57,1414 726.13,1415.15 726.7,1416.3 727.26,1417.44 727.83,1418.59 728.4,1419.73 728.96,1420.87 729.53,1422.01 730.09,1423.14 730.66,1424.27 731.23,1425.4 731.79,1426.53 732.36,1427.65 732.92,1428.78 733.49,1429.9 734.06,1431.01 734.62,1432.13 735.19,1433.24 735.75,1434.35 736.32,1435.46 736.89,1436.57 737.45,1437.67 738.02,1438.77 738.58,1439.87 739.15,1440.97 739.72,1442.06 740.28,1443.15 740.85,1444.24 741.41,1445.33 741.98,1446.41 742.55,1447.5 743.11,1448.58 743.68,1449.65 744.24,1450.73 744.81,1451.8 745.38,1452.87 745.94,1453.94 746.51,1455.01 747.07,1456.07 747.64,1457.14 748.21,1458.2 748.77,1459.25 749.34,1460.31 749.9,1461.36 750.47,1462.41 751.04,1463.46 751.6,1464.51 752.17,1465.55 752.73,1466.59 753.3,1467.63 753.87,1468.67 754.43,1469.71 755,1470.74 755.56,1471.77 756.13,1472.8 756.7,1473.83 757.26,1474.85 757.83,1475.87 758.39,1476.89 758.96,1477.91 759.53,1478.93 760.09,1479.94 760.66,1480.95 761.22,1481.96 761.79,1482.97 762.36,1483.97 762.92,1484.98 763.49,1485.98 764.05,1486.98 764.62,1487.97 765.19,1488.97 765.75,1489.96 766.32,1490.95 766.88,1491.94 767.45,1492.93 768.02,1493.91 768.58,1494.89 769.15,1495.87 769.72,1496.85 770.28,1497.82 770.85,1498.8 771.41,1499.77 771.98,1500.74 772.55,1501.71 773.11,1502.67 773.68,1503.64 774.24,1504.6 774.81,1505.56 775.38,1506.51 775.94,1507.47 776.51,1508.42 777.07,1509.37 777.64,1510.32 778.21,1511.27 778.77,1512.21 779.34,1513.16 779.9,1514.1 780.47,1515.04 781.04,1515.98 781.6,1516.91 782.17,1517.84 782.73,1518.77 783.3,1519.7 783.87,1520.63 784.43,1521.56 785,1522.48 785.56,1523.4 786.13,1524.32 786.7,1525.24 787.26,1526.15 787.83,1527.07 788.39,1527.98 788.96,1528.89 789.53,1529.8 790.09,1530.7 790.66,1531.61 791.22,1532.51 791.79,1533.41 792.36,1534.31 792.92,1535.2 793.49,1536.1 794.05,1536.99 794.62,1537.88 795.19,1538.77 795.75,1539.66 796.32,1540.54 796.88,1541.42 797.45,1542.31 798.02,1543.19 798.58,1544.06 799.15,1544.94 799.71,1545.81 800.28,1546.68 800.85,1547.55 801.41,1548.42 801.98,1549.29 802.54,1550.15 803.11,1551.02 803.68,1551.88 804.24,1552.74 804.81,1553.59 805.37,1554.45 805.94,1555.3 806.51,1556.15 807.07,1557 807.64,1557.85 808.2,1558.7 808.77,1559.54 809.34,1560.39 809.9,1561.23 810.47,1562.07 811.03,1562.9 811.6,1563.74 812.17,1564.57 812.73,1565.41 813.3,1566.24 813.86,1567.07 814.43,1567.89 815,1568.72 815.56,1569.54 816.13,1570.36 816.69,1571.18 817.26,1572 817.83,1572.82 818.39,1573.63 818.96,1574.44 819.52,1575.26 820.09,1576.07 820.66,1576.87 821.22,1577.68 821.79,1578.48 822.35,1579.29 822.92,1580.09 823.49,1580.89 824.05,1581.68 824.62,1582.48 825.18,1583.27 825.75,1584.07 826.32,1584.86 826.88,1585.65 827.45,1586.43 828.01,1587.22 828.58,1588.01 829.15,1588.79 829.71,1589.57 830.28,1590.35 830.84,1591.13 831.41,1591.9 831.98,1592.68 832.54,1593.45 833.11,1594.22 833.67,1594.99 834.24,1595.76 834.81,1596.52 835.37,1597.29 835.94,1598.05 836.5,1598.81 837.07,1599.57 837.64,1600.33 838.2,1601.09 838.77,1601.84 839.33,1602.59 839.9,1603.34 840.47,1604.09 841.03,1604.84 841.6,1605.59 842.17,1606.34 842.73,1607.08 843.3,1607.82 843.86,1608.56 844.43,1609.3 845,1610.04 845.56,1610.77 846.13,1611.51 846.69,1612.24 847.26,1612.97 847.83,1613.7 848.39,1614.43 848.96,1615.16 849.52,1615.88 850.09,1616.6 850.66,1617.33 851.22,1618.05 851.79,1618.77 852.35,1619.48 852.92,1620.2 853.49,1620.91 854.05,1621.63 854.62,1622.34 855.18,1623.05 855.75,1623.76 856.32,1624.46 856.88,1625.17 857.45,1625.87 858.01,1626.57 858.58,1627.27 859.15,1627.97 859.71,1628.67 860.28,1629.37 860.84,1630.06 861.41,1630.76 861.98,1631.45 862.54,1632.14 863.11,1632.83 863.67,1633.52 864.24,1634.2 864.81,1634.89 865.37,1635.57 865.94,1636.25 866.5,1636.93 867.07,1637.61 867.64,1638.29 868.2,1638.96 868.77,1639.64 869.33,1640.31 869.9,1640.98 870.47,1641.65 871.03,1642.32 871.6,1642.99 872.16,1643.66 872.73,1644.32 873.3,1644.98 873.86,1645.65 874.43,1646.31 874.99,1646.96 875.56,1647.62 876.13,1648.28 876.69,1648.93 877.26,1649.59 877.82,1650.24 878.39,1650.89 878.96,1651.54 879.52,1652.19 880.09,1652.83 880.65,1653.48 881.22,1654.12 881.79,1654.76 882.35,1655.41 882.92,1656.05 883.48,1656.68 884.05,1657.32 884.62,1657.96 885.18,1658.59 885.75,1659.22 886.31,1659.86 886.88,1660.49 887.45,1661.11 888.01,1661.74 888.58,1662.37 889.14,1662.99 889.71,1663.62 890.28,1664.24" fill="none" stroke="#858585" stroke-width="2.3" stroke-linejoin="round" stroke-dasharray="13.5,7.5"/>
<rect x="309.3" y="1893" width="65.4" height="10" fill="#4d4d4d"/>
<path d="M345.9,1877.5L359.9,1898L345.9,1918.5L331.9,1898Z" fill="#000000" stroke="#404040" stroke-width="1.1"/>
<rect x="737.3" y="1442.6" width="10.4" height="38.2" fill="#009900"/>
<rect x="728" y="1456.5" width="28" height="10.3" fill="#009900"/>
<path d="M742.5,1441L758,1461.6L742.5,1482.2L727,1461.6Z" fill="#009900" stroke="#404040" stroke-width="1.1"/>
<path d="M737.6,1531.9L753.1,1552.5L737.6,1573.1L722.1,1552.5Z" fill="#a00000" stroke="#404040" stroke-width="1.1"/>
<path d="M742.5,1571.9L758,1592.5L742.5,1613.1L727,1592.5Z" fill="#e35a5a" stroke="#404040" stroke-width="1.1"/>
<path d="M699.8,1625.1L715.3,1645.7L699.8,1666.3L684.3,1645.7Z" fill="#bfbfbf" stroke="#404040" stroke-width="1.1"/>
<path d="M225.6,1419.5L241.2,1440.2L225.6,1460.9L210,1440.2Z" fill="#bfbfbf" stroke="#404040" stroke-width="1.1"/>
<text transform="translate(247.2,1459) scale(1,1.035)" font-size="54" >VARNAM</text>
<path d="M225.6,1467.5L241.2,1488.2L225.6,1508.9L210,1488.2Z" fill="#000000" stroke="#404040" stroke-width="1.1"/>
<g transform="translate(247.2,1508.3) scale(1,1.035)"><text x="0" y="0" font-size="54" >FlicR</text><path transform="translate(122.98,0) scale(0.02637,-0.02637)" d="M800,0L800,1436L684,1436C610,1305 420,1175 231,1114L231,925C370,977 510,1057 610,1157L610,0Z"/></g>
<path d="M225.6,1515.3L241.2,1536L225.6,1556.7L210,1536Z" fill="#009900" stroke="#404040" stroke-width="1.1"/>
<text transform="translate(247.2,1554) scale(1,1.035)" font-size="54" >Ace-mNeon</text>
<path d="M225.6,1564.8L241.2,1585.5L225.6,1606.2L210,1585.5Z" fill="#a00000" stroke="#404040" stroke-width="1.1"/>
<text transform="translate(247.2,1603.3) scale(1,1.035)" font-size="54" >Ace-7aa-mScarlet</text>
<path d="M225.6,1614.2L241.2,1634.9L225.6,1655.6L210,1634.9Z" fill="#e35a5a" stroke="#404040" stroke-width="1.1"/>
<text transform="translate(247.2,1654.2) scale(1,1.035)" font-size="54" >Ace-8aa-mScarlet</text>
<line x1="183.4" y1="1404.7" x2="183.4" y2="1957.3" stroke="#8a8a8a" stroke-width="1.6" />
<line x1="183.4" y1="1957.3" x2="890.5" y2="1957.3" stroke="#555555" stroke-width="1.2" />
<line x1="183.4" y1="1957.3" x2="190.4" y2="1957.3" stroke="#7a7a7a" stroke-width="1.3" />
<text transform="translate(140.38,1974.6) scale(1,1.035)" font-size="54" >0</text>
<line x1="183.4" y1="1819.15" x2="190.4" y2="1819.15" stroke="#7a7a7a" stroke-width="1.3" />
<text transform="translate(141.04,1838.5) scale(1,1.035)" font-size="54" >5</text>
<line x1="183.4" y1="1681" x2="190.4" y2="1681" stroke="#7a7a7a" stroke-width="1.3" />
<g transform="translate(110.84,1696.3) scale(1,1.035)"><path transform="translate(0,0) scale(0.02637,-0.02637)" d="M800,0L800,1436L684,1436C610,1305 420,1175 231,1114L231,925C370,977 510,1057 610,1157L610,0Z"/><text x="30.03" y="0" font-size="54" >0</text></g>
<line x1="183.4" y1="1542.85" x2="190.4" y2="1542.85" stroke="#7a7a7a" stroke-width="1.3" />
<g transform="translate(111.2,1562.4) scale(1,1.035)"><path transform="translate(0,0) scale(0.02637,-0.02637)" d="M800,0L800,1436L684,1436C610,1305 420,1175 231,1114L231,925C370,977 510,1057 610,1157L610,0Z"/><text x="30.03" y="0" font-size="54" >5</text></g>
<line x1="183.4" y1="1404.7" x2="190.4" y2="1404.7" stroke="#7a7a7a" stroke-width="1.3" />
<text transform="translate(115.14,1424.3) scale(1,1.035)" font-size="54" >20</text>
<line x1="183.4" y1="1957.3" x2="183.4" y2="1949.3" stroke="#555555" stroke-width="1.3" />
<line x1="490.6" y1="1957.3" x2="490.6" y2="1949.3" stroke="#555555" stroke-width="1.3" />
<line x1="797.8" y1="1957.3" x2="797.8" y2="1949.3" stroke="#555555" stroke-width="1.3" />
<line x1="890.28" y1="1957.3" x2="890.28" y2="1949.3" stroke="#555555" stroke-width="1.3" />
<line x1="275.88" y1="1957.3" x2="275.88" y2="1952.8" stroke="#555555" stroke-width="1.2" />
<line x1="329.97" y1="1957.3" x2="329.97" y2="1952.8" stroke="#555555" stroke-width="1.2" />
<line x1="368.35" y1="1957.3" x2="368.35" y2="1952.8" stroke="#555555" stroke-width="1.2" />
<line x1="398.12" y1="1957.3" x2="398.12" y2="1952.8" stroke="#555555" stroke-width="1.2" />
<line x1="422.45" y1="1957.3" x2="422.45" y2="1952.8" stroke="#555555" stroke-width="1.2" />
<line x1="443.01" y1="1957.3" x2="443.01" y2="1952.8" stroke="#555555" stroke-width="1.2" />
<line x1="460.83" y1="1957.3" x2="460.83" y2="1952.8" stroke="#555555" stroke-width="1.2" />
<line x1="476.54" y1="1957.3" x2="476.54" y2="1952.8" stroke="#555555" stroke-width="1.2" />
<line x1="583.08" y1="1957.3" x2="583.08" y2="1952.8" stroke="#555555" stroke-width="1.2" />
<line x1="637.17" y1="1957.3" x2="637.17" y2="1952.8" stroke="#555555" stroke-width="1.2" />
<line x1="675.55" y1="1957.3" x2="675.55" y2="1952.8" stroke="#555555" stroke-width="1.2" />
<line x1="705.32" y1="1957.3" x2="705.32" y2="1952.8" stroke="#555555" stroke-width="1.2" />
<line x1="729.65" y1="1957.3" x2="729.65" y2="1952.8" stroke="#555555" stroke-width="1.2" />
<line x1="750.21" y1="1957.3" x2="750.21" y2="1952.8" stroke="#555555" stroke-width="1.2" />
<line x1="768.03" y1="1957.3" x2="768.03" y2="1952.8" stroke="#555555" stroke-width="1.2" />
<line x1="783.74" y1="1957.3" x2="783.74" y2="1952.8" stroke="#555555" stroke-width="1.2" />
<g transform="translate(134.29,2030.5) scale(1,1.035)"><text x="0" y="0" font-size="54" >0.0</text><path transform="translate(75.07,0) scale(0.02637,-0.02637)" d="M800,0L800,1436L684,1436C610,1305 420,1175 231,1114L231,925C370,977 510,1057 610,1157L610,0Z"/></g>
<g transform="translate(456.89,2030.5) scale(1,1.035)"><text x="0" y="0" font-size="54" >0.</text><path transform="translate(45.04,0) scale(0.02637,-0.02637)" d="M800,0L800,1436L684,1436C610,1305 420,1175 231,1114L231,925C370,977 510,1057 610,1157L610,0Z"/></g>
<g transform="translate(783.71,2030.5) scale(1,1.035)"><path transform="translate(0,0) scale(0.02637,-0.02637)" d="M800,0L800,1436L684,1436C610,1305 420,1175 231,1114L231,925C370,977 510,1057 610,1157L610,0Z"/></g>
<text transform="translate(876.88,2030.5) scale(1,1.035)" font-size="54" >2</text>
<g transform="translate(821.66,2105.3) scale(1,1.035)"><text x="0" y="0" font-size="54" >×</text><path transform="translate(31.54,0) scale(0.02637,-0.02637)" d="M800,0L800,1436L684,1436C610,1305 420,1175 231,1114L231,925C370,977 510,1057 610,1157L610,0Z"/><text x="61.57" y="0" font-size="54" >0</text></g>
<text transform="translate(913.45,2083.2) scale(1,1.035)" font-size="54" >8</text>
<text transform="translate(272.27,2158.5) scale(1,1.035)" font-size="54" >Brightness (photons/s)</text>
<text transform="translate(81.6,1803.51) rotate(-90) scale(1,1.035)" font-size="54" letter-spacing="0.22">|&#916;<tspan font-style="italic">F/F</tspan>| (%)</text>
<text transform="translate(-3.5,1422.4)" font-size="64.5" >(c)</text>
</svg></body></html>
